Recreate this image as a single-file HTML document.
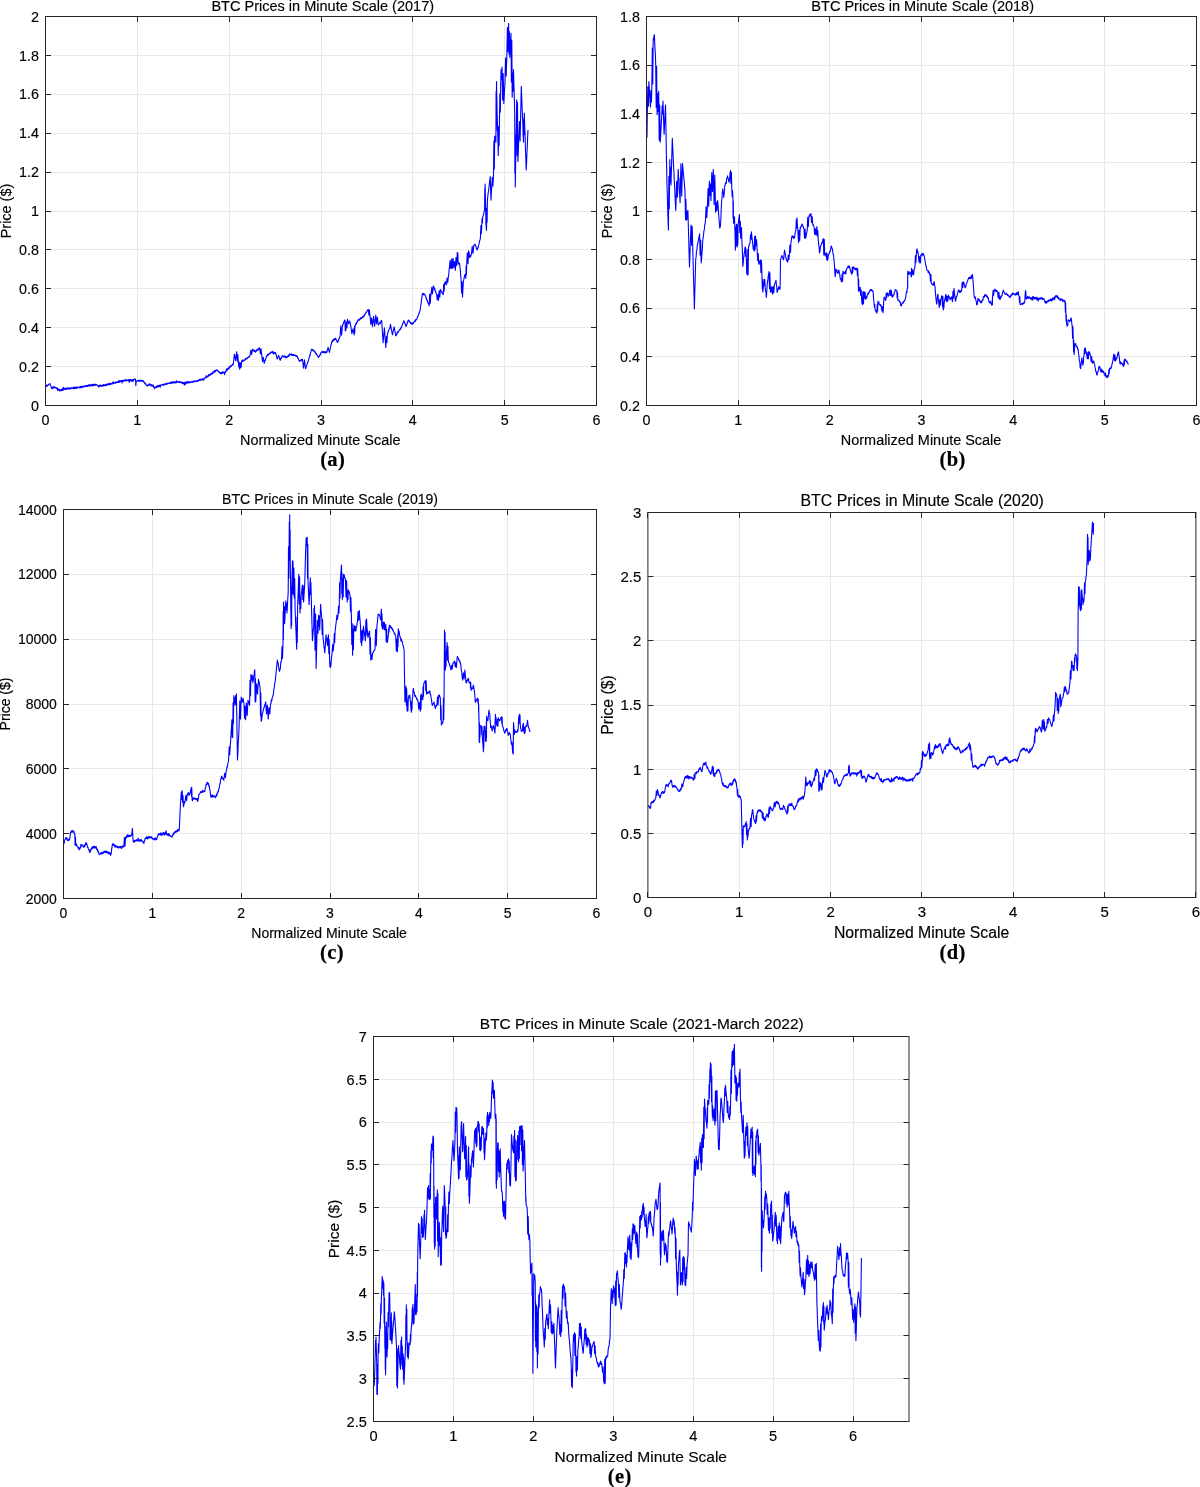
<!DOCTYPE html>
<html><head><meta charset="utf-8"><style>
html,body{margin:0;padding:0;background:#fff;}
svg{display:block;will-change:transform;}
text{font-family:"Liberation Sans",sans-serif;fill:#000;stroke:#000;stroke-width:0.15px;}
text.sub{font-family:"Liberation Serif",serif;font-weight:bold;font-size:20.5px;fill:#000;stroke:#000;stroke-width:0.2px;letter-spacing:0.4px;}
</style></head><body>
<svg width="1200" height="1487" viewBox="0 0 1200 1487">
<rect width="1200" height="1487" fill="#fff"/>
<path d="M137.5 16.5V405.5M229.5 16.5V405.5M321.5 16.5V405.5M412.5 16.5V405.5M504.5 16.5V405.5M45.5 366.5H596.5M45.5 327.5H596.5M45.5 288.5H596.5M45.5 249.5H596.5M45.5 211.5H596.5M45.5 172.5H596.5M45.5 133.5H596.5M45.5 94.5H596.5M45.5 55.5H596.5" stroke="#e8e8e8" stroke-width="1" fill="none"/>
<polyline points="45.5,386.3 45.9,386.8 46.2,385.1 46.6,386.2 47.0,385.4 47.4,386.0 47.8,384.9 48.1,385.4 48.5,384.3 48.9,384.6 49.2,384.0 49.6,384.1 50.0,383.7 50.4,384.9 50.9,385.9 51.3,387.6 51.7,388.3 52.1,388.8 52.4,387.7 52.8,388.2 53.2,386.5 53.5,388.0 53.9,387.2 54.3,387.8 54.6,386.7 55.0,387.5 55.4,387.7 55.7,387.5 56.1,388.1 56.4,387.6 56.8,388.5 57.1,387.9 57.5,390.5 57.9,388.6 58.2,389.7 58.6,389.1 58.9,390.4 59.3,389.6 59.6,391.0 60.0,390.3 60.4,390.4 60.7,389.6 61.1,390.9 61.4,389.3 61.8,390.2 62.1,389.1 62.5,390.4 62.9,388.1 63.2,390.0 63.6,387.2 63.9,389.9 64.3,388.3 64.6,389.0 65.0,388.7 65.4,389.4 65.7,388.2 66.1,389.5 66.4,388.1 66.8,389.3 67.2,388.2 67.5,388.6 67.9,387.6 68.2,389.2 68.6,388.1 69.0,389.0 69.3,388.2 69.7,389.1 70.0,388.1 70.4,388.7 70.8,387.6 71.1,388.3 71.5,387.9 71.8,388.8 72.2,387.9 72.5,388.0 72.9,387.5 73.3,388.8 73.6,387.1 74.0,388.4 74.3,387.0 74.7,388.6 75.1,387.4 75.4,388.3 75.8,387.3 76.1,388.6 76.5,386.8 76.9,388.1 77.2,387.4 77.6,387.8 77.9,387.0 78.3,387.5 78.6,387.5 79.0,387.0 79.3,387.9 79.7,387.1 80.0,387.6 80.4,386.4 80.8,387.8 81.1,386.1 81.5,387.5 81.8,386.6 82.2,387.6 82.5,386.2 82.8,387.1 83.2,386.3 83.5,386.5 83.9,385.9 84.2,387.0 84.6,386.2 85.0,386.3 85.3,386.0 85.7,386.7 86.0,385.4 86.4,386.1 86.7,385.8 87.1,386.5 87.4,385.2 87.8,386.5 88.1,385.6 88.5,385.8 88.8,384.6 89.2,385.9 89.6,384.9 89.9,386.2 90.3,384.6 90.6,385.6 91.0,384.8 91.3,385.3 91.7,384.9 92.1,386.1 92.4,384.4 92.8,385.2 93.1,384.2 93.5,385.8 93.8,384.2 94.2,385.0 94.6,384.7 94.9,385.4 95.3,384.0 95.6,385.1 96.0,384.6 96.3,385.0 96.7,384.5 97.1,385.3 97.5,385.4 97.9,386.0 98.3,386.3 98.7,386.8 99.0,385.3 99.4,386.8 99.7,385.9 100.1,386.0 100.4,384.9 100.8,386.2 101.1,385.7 101.5,386.3 101.8,385.6 102.2,386.2 102.5,385.1 102.9,385.9 103.2,384.9 103.6,386.0 103.9,384.3 104.3,385.5 104.6,384.9 105.0,385.8 105.4,384.9 105.7,385.7 106.1,384.1 106.4,385.5 106.8,384.2 107.1,384.9 107.5,384.2 107.8,385.2 108.2,383.6 108.5,384.5 108.9,383.7 109.2,384.4 109.6,383.2 109.9,384.8 110.3,383.6 110.6,384.5 111.0,383.2 111.3,384.0 111.7,383.7 112.1,383.6 112.4,382.9 112.8,384.0 113.2,381.5 113.5,383.4 113.9,382.8 114.2,383.0 114.6,382.5 115.0,383.1 115.3,382.3 115.7,383.3 116.0,381.9 116.4,382.5 116.8,382.1 117.1,382.4 117.5,382.0 117.9,382.3 118.2,381.1 118.6,382.4 118.9,380.9 119.3,382.3 119.6,380.6 120.0,381.9 120.3,381.2 120.7,381.4 121.0,380.5 121.4,381.4 121.7,380.6 122.1,383.1 122.5,380.2 122.8,381.0 123.2,380.5 123.5,381.4 123.9,380.1 124.2,380.7 124.6,380.2 124.9,381.2 125.3,380.1 125.6,380.7 126.0,379.3 126.3,380.9 126.7,380.0 127.1,380.5 127.4,380.0 127.8,380.8 128.1,380.1 128.5,380.3 128.8,379.4 129.2,382.5 129.6,379.5 129.9,381.0 130.3,379.5 130.6,380.6 131.0,379.6 131.3,381.2 131.7,380.5 132.1,380.5 132.5,379.5 132.8,381.8 133.2,379.5 133.6,380.5 134.0,379.3 134.4,379.5 134.7,379.0 135.1,379.3 135.5,379.0 135.8,385.8 136.2,381.0 136.6,381.5 136.9,381.0 137.3,381.0 137.6,380.7 138.0,381.0 138.3,380.2 138.7,381.4 139.0,380.2 139.4,381.3 139.8,380.7 140.1,381.0 140.5,380.1 140.8,381.0 141.2,380.7 141.5,381.2 141.9,380.2 142.2,381.3 142.6,380.5 142.9,381.5 143.3,380.8 143.7,382.0 144.1,381.8 144.4,383.2 144.8,382.9 145.2,384.2 145.6,383.4 145.9,384.7 146.3,385.1 146.7,385.8 147.1,386.1 147.4,385.0 147.8,385.6 148.2,385.1 148.5,385.2 148.9,384.0 149.3,385.3 149.6,383.9 150.0,384.2 150.4,385.0 150.7,384.5 151.1,385.8 151.4,384.7 151.8,386.1 152.1,385.2 152.5,385.9 152.9,384.7 153.2,386.7 153.6,385.7 153.9,387.7 154.3,386.8 154.6,388.8 155.0,387.5 155.4,387.4 155.7,386.7 156.1,387.3 156.4,386.5 156.8,387.5 157.1,386.1 157.5,387.0 157.8,385.6 158.2,387.0 158.5,385.4 158.9,386.2 159.2,385.4 159.6,386.5 159.9,385.0 160.3,387.2 160.6,385.1 161.0,385.6 161.3,384.9 161.7,385.0 162.1,385.0 162.4,384.2 162.8,384.9 163.1,384.5 163.5,385.4 163.9,384.2 164.2,384.9 164.6,384.0 164.9,384.2 165.3,383.6 165.7,384.4 166.0,383.7 166.4,384.6 166.8,383.5 167.1,384.1 167.5,383.1 167.8,383.6 168.2,383.1 168.6,383.6 168.9,383.2 169.3,383.5 169.6,382.8 170.0,383.0 170.4,383.3 170.7,382.2 171.1,383.1 171.4,381.9 171.8,383.3 172.2,382.1 172.5,383.1 172.9,382.0 173.2,383.0 173.6,381.5 174.0,382.8 174.3,381.8 174.7,382.6 175.1,382.0 175.4,382.9 175.8,381.7 176.1,382.9 176.5,380.7 176.9,382.1 177.2,381.6 177.6,382.3 177.9,381.4 178.3,381.7 178.7,382.0 179.0,381.9 179.4,382.7 179.7,381.2 180.1,382.4 180.4,382.0 180.8,382.5 181.2,382.0 181.5,383.0 181.9,382.5 182.2,383.3 182.6,382.1 182.9,383.7 183.3,383.0 183.7,383.6 184.0,382.3 184.4,385.1 184.7,382.8 185.1,382.8 185.4,382.1 185.8,384.3 186.1,381.7 186.5,383.0 186.8,382.2 187.2,383.3 187.6,381.6 187.9,382.4 188.3,381.5 188.6,382.9 189.0,381.9 189.3,382.9 189.7,381.9 190.0,382.8 190.4,381.9 190.7,382.4 191.1,381.8 191.5,382.1 191.8,381.4 192.2,381.8 192.5,381.4 192.9,382.4 193.2,381.2 193.6,381.6 193.9,381.1 194.3,381.8 194.6,380.7 195.0,381.3 195.4,381.6 195.7,381.0 196.1,381.3 196.4,380.7 196.8,381.0 197.2,380.6 197.5,381.5 197.9,380.5 198.2,380.6 198.6,380.0 199.0,380.8 199.3,379.4 199.7,380.3 200.1,379.5 200.4,380.2 200.8,379.1 201.1,380.2 201.5,379.6 201.9,379.6 202.2,378.8 202.6,379.9 202.9,379.1 203.3,379.2 203.7,380.2 204.0,378.0 204.4,378.7 204.7,378.2 205.1,378.1 205.4,377.5 205.8,377.6 206.1,375.5 206.5,377.7 206.8,376.8 207.2,376.9 207.5,376.2 207.9,376.6 208.2,375.2 208.6,376.3 208.9,374.2 209.3,375.5 209.6,374.9 210.0,374.7 210.4,375.2 210.7,373.6 211.1,374.3 211.4,373.2 211.8,373.9 212.1,373.1 212.5,373.8 212.8,371.9 213.2,373.4 213.5,372.0 213.9,372.2 214.2,370.8 214.6,371.9 214.9,370.5 215.3,371.9 215.6,370.3 216.0,370.8 216.3,369.9 216.7,370.0 217.1,370.5 217.4,370.0 217.8,371.1 218.2,371.0 218.5,371.9 218.9,371.6 219.3,372.6 219.6,372.1 220.0,373.0 220.4,373.6 220.7,372.6 221.1,373.8 221.4,372.3 221.8,373.6 222.1,372.4 222.5,373.5 222.9,371.5 223.2,373.0 223.6,372.3 223.9,372.7 224.3,372.1 224.6,374.8 225.0,372.5 225.4,372.4 225.7,371.0 226.1,371.5 226.5,368.9 226.8,370.8 227.2,369.1 227.6,369.7 227.9,368.3 228.3,368.3 228.7,369.0 229.0,367.0 229.4,368.1 229.7,366.7 230.1,366.9 230.4,365.7 230.8,366.9 231.2,365.6 231.5,365.9 231.9,365.0 232.2,365.2 232.6,364.1 232.9,364.9 233.3,364.2 234.4,354.0 235.5,360.4 236.7,351.7 237.2,361.2 237.8,354.6 238.3,361.7 238.8,367.0 239.2,362.0 239.7,369.2 240.4,362.7 241.0,367.6 241.7,360.8 242.1,361.6 242.5,359.9 242.9,361.1 243.3,360.8 243.7,361.2 244.1,360.0 244.4,360.3 244.8,359.5 245.2,359.9 245.6,358.5 245.9,359.2 246.3,358.3 246.7,358.3 247.1,358.8 247.4,357.7 247.8,357.5 248.2,357.0 248.5,357.6 248.9,356.5 249.3,357.1 249.6,356.0 250.0,355.8 250.8,350.1 251.7,354.4 252.5,349.2 252.9,350.1 253.2,349.9 253.6,351.0 253.9,349.8 254.3,351.4 254.6,350.6 255.0,351.7 255.4,352.2 255.7,350.7 256.1,351.5 256.4,350.1 256.8,350.8 257.2,349.2 257.5,349.9 257.9,349.1 258.3,349.9 258.6,348.6 259.0,349.2 259.3,347.7 259.7,348.0 260.4,354.0 261.0,348.8 261.7,355.0 262.5,361.6 263.3,357.2 264.2,363.3 264.6,362.5 264.9,360.4 265.3,360.5 265.6,358.6 266.0,358.3 266.3,356.8 266.7,355.8 267.1,356.2 267.4,354.5 267.8,355.5 268.1,354.1 268.5,354.9 268.8,354.0 269.2,354.3 269.6,353.6 269.9,353.5 270.3,352.5 270.6,353.1 271.0,351.9 271.3,352.9 271.7,352.0 272.1,352.4 272.4,351.4 272.8,353.0 273.2,351.9 273.6,354.3 273.9,352.1 274.3,353.4 274.7,352.8 275.1,353.1 275.4,352.5 275.8,353.3 277.2,359.0 278.6,355.4 280.0,360.0 280.4,360.2 280.7,358.1 281.1,358.9 281.4,357.3 281.8,357.5 282.1,355.7 282.5,355.8 282.9,356.0 283.3,356.0 283.6,357.0 284.0,356.0 284.4,356.9 284.8,355.9 285.2,357.2 285.6,356.4 285.9,358.0 286.3,356.8 286.7,357.5 287.1,357.5 287.4,356.1 287.8,356.5 288.2,355.7 288.5,356.6 288.9,354.9 289.3,355.8 289.6,353.8 290.0,354.2 290.4,354.4 290.7,354.3 291.1,355.0 291.4,353.8 291.8,355.3 292.1,354.7 292.5,355.5 292.8,354.2 293.2,355.5 293.5,354.7 293.9,355.5 294.2,355.1 294.6,355.5 294.9,355.2 295.3,355.6 295.6,355.1 296.0,356.4 296.3,355.6 296.7,355.8 297.1,356.8 297.4,356.5 297.8,358.5 298.1,358.0 298.5,359.8 298.8,360.0 299.2,360.8 299.6,361.3 299.9,360.4 300.3,361.0 300.7,360.0 301.0,360.8 301.4,359.5 301.8,360.3 302.1,359.2 302.5,359.2 303.5,368.1 304.5,359.8 305.5,368.7 305.9,368.1 306.2,366.3 306.6,365.9 306.9,364.6 307.2,363.9 307.6,362.1 307.9,362.3 308.3,360.8 308.7,360.1 309.1,357.4 309.4,357.4 309.8,354.9 310.2,355.2 310.6,352.5 310.9,352.0 311.3,349.9 311.7,349.2 312.1,350.0 312.4,349.5 312.8,350.6 313.2,349.8 313.5,350.9 313.9,350.8 314.3,351.8 314.6,350.9 315.0,351.7 315.4,353.1 315.7,352.7 316.1,354.5 316.5,353.8 316.8,355.0 317.2,355.0 317.6,356.2 317.9,356.8 318.3,357.5 318.7,357.1 319.1,356.0 319.4,356.4 319.8,354.7 320.2,355.1 320.6,353.1 320.9,353.2 321.3,352.3 321.7,351.7 322.1,352.2 322.4,351.5 322.8,352.6 323.1,351.7 323.5,352.4 323.8,351.3 324.2,352.5 324.6,351.8 324.9,353.0 325.3,352.0 325.6,352.8 326.0,351.5 326.3,352.8 326.7,352.5 328.1,347.3 329.4,352.4 330.8,345.8 331.2,344.5 331.7,341.7 332.1,342.5 332.4,340.5 332.8,341.0 333.2,339.6 333.6,340.8 333.9,339.0 334.3,340.1 334.7,338.6 335.1,339.4 335.4,338.4 335.8,338.3 336.2,339.8 336.6,340.3 337.1,341.8 337.5,342.5 337.9,341.9 338.2,340.0 338.6,340.7 338.9,338.5 339.3,338.6 339.6,336.9 340.0,336.7 340.8,325.7 341.6,335.1 342.5,325.0 342.9,325.2 343.2,323.5 343.6,323.6 343.9,321.3 344.3,321.7 344.6,320.3 345.0,320.0 345.3,330.7 345.5,323.3 345.8,330.8 346.4,322.0 346.9,327.9 347.5,319.2 348.6,323.8 349.7,320.9 350.8,325.8 351.9,333.7 353.0,328.8 354.2,335.0 354.5,326.3 354.7,332.9 355.0,325.8 355.4,325.7 355.7,323.7 356.1,324.5 356.5,322.4 356.8,323.2 357.2,321.6 357.6,321.7 357.9,319.9 358.3,320.0 358.7,320.1 359.0,319.3 359.4,320.2 359.7,319.0 360.1,319.6 360.4,317.7 360.8,318.7 361.2,318.0 361.5,318.2 361.9,317.2 362.2,317.9 362.6,316.6 362.9,317.8 363.3,316.7 363.7,316.3 364.0,315.0 364.4,315.9 364.7,314.4 365.1,314.4 365.4,313.4 365.8,313.0 366.2,312.1 366.5,312.4 366.9,311.0 367.2,311.2 367.6,310.0 367.9,310.3 368.3,309.2 368.9,315.2 369.4,310.1 370.0,315.8 370.8,324.5 371.6,317.7 372.5,326.7 373.6,316.3 374.7,326.2 375.8,315.0 376.6,324.0 377.4,317.3 378.3,325.0 378.7,324.7 379.1,323.8 379.4,323.8 379.8,322.5 380.2,323.5 380.6,321.8 380.9,322.0 381.3,320.5 381.7,320.8 383.1,342.8 384.4,327.8 385.8,347.5 386.4,336.6 386.9,342.7 387.5,333.3 387.9,333.3 388.2,331.1 388.6,331.1 389.0,329.3 389.3,329.3 389.7,327.6 390.1,328.0 390.4,324.4 390.8,325.8 392.4,334.8 394.1,326.8 395.8,335.8 396.2,335.8 396.5,334.1 396.9,334.2 397.3,332.1 397.6,333.2 398.0,331.5 398.4,332.1 398.8,330.8 399.1,330.7 399.5,329.7 399.9,330.0 400.2,328.7 400.6,329.1 401.0,327.5 401.3,327.8 401.7,326.7 403.9,320.8 406.1,326.5 408.3,320.0 408.7,321.0 409.1,320.4 409.4,321.9 409.8,321.8 410.2,323.0 410.6,322.3 410.9,323.6 411.3,323.2 411.7,324.2 412.1,324.3 412.4,322.8 412.8,324.0 413.1,322.7 413.5,322.9 413.8,321.9 414.2,321.9 414.6,321.2 414.9,321.4 415.3,319.5 415.6,321.1 416.0,319.7 416.3,319.7 416.7,319.2 417.1,318.8 417.4,316.7 417.8,317.0 418.2,315.2 418.5,314.8 418.9,313.1 419.3,313.5 419.6,311.6 420.0,310.8 420.4,308.5 420.7,305.5 421.1,303.9 421.4,299.9 421.8,298.6 422.1,295.3 422.5,293.3 422.9,294.0 423.2,293.2 423.6,294.9 423.9,294.2 424.3,294.7 424.6,293.9 425.0,295.0 425.4,296.1 425.8,296.3 426.1,298.7 426.5,298.4 426.9,300.5 427.3,300.1 427.7,302.5 428.1,302.7 428.4,304.0 428.8,304.2 429.2,305.8 429.7,294.2 430.3,303.3 430.8,293.3 431.0,295.2 431.8,287.3 432.5,294.0 433.3,285.8 433.7,287.0 434.1,287.0 434.4,289.6 434.8,288.8 435.2,290.5 435.6,292.2 435.9,292.0 436.2,293.4 436.6,294.2 437.2,300.0 437.9,294.6 438.5,300.4 439.1,290.8 439.8,297.1 440.4,289.5 440.8,290.5 441.1,290.7 441.4,291.6 441.8,291.9 442.1,293.3 442.5,292.7 442.8,294.3 443.2,294.7 443.7,284.3 444.1,291.2 444.6,282.9 445.0,283.9 445.4,281.5 445.7,284.1 446.1,284.0 446.5,284.8 447.1,278.0 447.8,282.4 448.4,276.4 448.8,273.9 449.1,269.2 449.5,267.4 449.8,262.9 450.2,260.4 450.5,268.3 450.9,263.1 451.2,268.8 451.8,258.9 452.5,268.2 453.1,258.5 453.9,267.8 454.6,261.6 455.4,270.2 456.0,257.5 456.7,265.4 457.3,252.4 457.6,261.7 457.9,253.2 458.2,264.1 458.6,264.0 458.9,263.0 459.2,264.0 459.6,263.2 460.0,267.3 460.4,271.1 460.7,275.6 461.1,279.2 461.6,293.0 462.0,281.7 462.5,297.1 462.9,289.3 463.4,281.1 463.8,279.9 464.1,277.3 464.4,277.0 464.8,274.5 465.3,277.1 465.8,278.2 466.1,266.1 466.4,274.8 466.7,264.1 467.3,252.8 468.0,263.6 468.6,250.9 468.9,255.6 469.2,252.3 469.5,257.5 469.9,257.0 470.3,255.5 470.6,257.0 471.0,254.9 471.4,254.7 472.2,246.3 473.0,253.5 473.8,245.3 474.3,245.0 474.7,244.2 475.2,244.4 475.6,246.1 476.0,246.1 476.3,248.5 476.7,248.9 477.1,250.0 477.5,249.0 477.8,247.5 478.2,247.9 478.5,245.1 478.9,244.4 479.3,242.9 479.6,241.0 480.0,239.9 480.4,237.8 480.9,225.5 481.3,233.8 481.8,224.6 482.1,218.6 482.4,223.0 482.7,217.1 483.1,216.0 483.5,214.4 483.8,213.6 484.2,210.5 484.6,210.5 484.8,188.4 484.9,210.2 485.1,184.1 485.6,205.0 486.0,224.6 486.5,230.2 486.8,208.1 487.1,222.2 487.4,200.1 488.0,194.2 488.4,191.9 488.8,188.8 489.3,184.8 489.7,180.6 490.2,176.6 490.6,189.0 491.0,200.1 491.7,186.9 492.3,177.2 492.9,186.3 493.5,174.8 493.9,140.8 494.3,169.0 494.7,136.0 495.1,140.3 495.5,138.1 495.9,142.1 496.1,91.5 496.3,130.6 496.5,81.6 497.1,111.9 497.5,126.8 497.9,140.1 498.3,155.4 498.7,126.4 499.1,145.6 499.5,117.9 499.9,93.8 500.3,112.3 500.7,85.2 501.1,69.5 501.6,79.5 502.0,67.1 502.6,100.0 503.2,73.5 503.8,103.4 504.2,97.2 504.6,89.2 505.0,82.8 505.6,58.1 506.2,76.0 506.8,57.4 507.4,27.6 508.0,51.5 508.6,23.5 509.0,53.9 509.4,31.5 509.8,57.4 510.2,49.8 510.6,40.8 511.0,33.2 511.4,81.9 511.8,40.4 512.2,97.3 512.6,73.0 513.1,91.2 513.5,69.5 513.9,84.2 514.3,97.3 514.7,111.9 514.9,173.0 515.1,135.1 515.3,186.9 515.6,165.8 516.0,142.7 516.4,121.8 516.7,99.7 517.1,155.8 517.5,102.5 517.9,161.5 518.3,152.2 518.7,140.8 519.1,131.7 519.5,121.5 520.1,140.9 520.5,122.9 520.9,103.9 521.3,86.4 521.7,96.2 522.0,104.4 522.4,115.1 522.8,122.6 523.1,133.3 523.5,142.1 523.8,118.7 524.0,134.7 524.3,113.1 524.7,126.5 525.1,135.2 525.4,147.3 525.8,158.4 526.2,170.0 526.6,162.4 526.9,153.7 527.3,146.6 527.6,137.9 528.0,130.0" stroke="#0000ff" stroke-width="1.1" fill="none" stroke-linejoin="round"/>
<path d="M45.5 405.5v-5.5M45.5 16.5v5.5M137.5 405.5v-5.5M137.5 16.5v5.5M229.5 405.5v-5.5M229.5 16.5v5.5M321.5 405.5v-5.5M321.5 16.5v5.5M412.5 405.5v-5.5M412.5 16.5v5.5M504.5 405.5v-5.5M504.5 16.5v5.5M596.5 405.5v-5.5M596.5 16.5v5.5M45.5 405.5h5.5M596.5 405.5h-5.5M45.5 366.5h5.5M596.5 366.5h-5.5M45.5 327.5h5.5M596.5 327.5h-5.5M45.5 288.5h5.5M596.5 288.5h-5.5M45.5 249.5h5.5M596.5 249.5h-5.5M45.5 211.5h5.5M596.5 211.5h-5.5M45.5 172.5h5.5M596.5 172.5h-5.5M45.5 133.5h5.5M596.5 133.5h-5.5M45.5 94.5h5.5M596.5 94.5h-5.5M45.5 55.5h5.5M596.5 55.5h-5.5M45.5 16.5h5.5M596.5 16.5h-5.5" stroke="#262626" stroke-width="1" fill="none"/>
<rect x="45.5" y="16.5" width="551" height="389" stroke="#262626" stroke-width="1" fill="none"/>
<g font-size="14.3"><text x="45.5" y="424.9" text-anchor="middle">0</text><text x="137.3333" y="424.9" text-anchor="middle">1</text><text x="229.1667" y="424.9" text-anchor="middle">2</text><text x="321" y="424.9" text-anchor="middle">3</text><text x="412.8333" y="424.9" text-anchor="middle">4</text><text x="504.6667" y="424.9" text-anchor="middle">5</text><text x="596.5" y="424.9" text-anchor="middle">6</text><text x="38.9" y="410.648" text-anchor="end">0</text><text x="38.9" y="371.748" text-anchor="end">0.2</text><text x="38.9" y="332.848" text-anchor="end">0.4</text><text x="38.9" y="293.948" text-anchor="end">0.6</text><text x="38.9" y="255.048" text-anchor="end">0.8</text><text x="38.9" y="216.148" text-anchor="end">1</text><text x="38.9" y="177.248" text-anchor="end">1.2</text><text x="38.9" y="138.348" text-anchor="end">1.4</text><text x="38.9" y="99.448" text-anchor="end">1.6</text><text x="38.9" y="60.548" text-anchor="end">1.8</text><text x="38.9" y="21.648" text-anchor="end">2</text></g>
<text x="322.75" y="10.7" font-size="14.52" text-anchor="middle">BTC Prices in Minute Scale (2017)</text>
<text x="320.2" y="444.6" font-size="14.45" text-anchor="middle">Normalized Minute Scale</text>
<text transform="translate(10.8 211) rotate(-90)" font-size="14.45" text-anchor="middle">Price ($)</text>
<text x="332.7" y="466" class="sub" text-anchor="middle">(a)</text>
<path d="M738.5 16.5V405.5M829.5 16.5V405.5M921.5 16.5V405.5M1013.5 16.5V405.5M1104.5 16.5V405.5M646.5 356.5H1196.5M646.5 308.5H1196.5M646.5 259.5H1196.5M646.5 211.5H1196.5M646.5 162.5H1196.5M646.5 113.5H1196.5M646.5 65.5H1196.5" stroke="#e8e8e8" stroke-width="1" fill="none"/>
<polyline points="646.5,140.1 646.8,116.1 647.0,137.0 647.3,114.8 647.8,86.8 648.4,106.3 648.9,81.6 649.3,88.6 649.7,94.3 650.1,101.6 650.5,107.0 650.9,90.6 651.4,102.1 651.8,89.4 652.3,48.1 652.7,84.0 653.2,38.7 653.6,39.9 654.0,35.5 654.4,34.8 654.8,45.1 655.3,53.2 655.7,64.0 656.2,107.4 656.6,66.2 657.1,114.8 657.6,93.5 658.2,111.4 658.7,91.3 659.2,140.3 659.7,105.0 660.2,142.1 660.7,135.6 661.1,126.3 661.6,118.7 662.1,106.0 662.5,113.7 663.0,101.1 663.4,113.1 663.7,122.7 664.1,134.3 664.6,125.1 665.0,114.3 665.5,105.0 666.0,130.4 666.4,155.7 666.9,181.1 667.3,194.3 667.6,205.5 668.0,218.6 668.4,229.9 668.9,176.3 669.3,208.8 669.8,159.6 670.2,182.6 670.6,167.5 671.0,185.0 671.4,170.5 671.9,152.7 672.3,138.2 672.7,146.9 673.1,155.2 673.5,164.2 673.9,172.2 674.3,181.1 674.7,188.8 675.0,195.1 675.4,204.3 675.8,210.4 676.6,181.4 677.4,197.2 678.2,169.4 678.6,176.9 679.0,179.5 679.3,190.3 679.7,195.2 680.1,202.6 680.9,163.8 681.7,196.1 682.5,163.5 682.9,167.9 683.2,171.2 683.6,175.7 683.9,178.4 684.3,183.1 684.6,186.9 685.0,190.9 685.5,219.8 685.9,199.3 686.4,220.1 686.9,211.5 687.4,219.0 687.9,210.4 688.3,225.1 688.7,238.5 689.1,253.2 689.5,267.0 689.9,256.9 690.2,245.1 690.6,236.8 691.0,225.0 691.6,245.3 692.2,226.3 692.8,249.4 693.2,265.3 693.6,279.1 694.0,294.6 694.4,308.9 694.8,292.5 695.3,275.1 695.7,259.1 696.1,256.9 696.5,251.1 696.9,250.2 697.3,245.5 697.7,243.8 698.1,241.4 698.5,239.9 698.8,237.2 699.2,236.7 699.6,233.8 700.1,254.9 700.7,240.1 701.2,263.0 701.6,258.7 702.0,252.8 702.3,249.0 702.7,241.7 703.1,237.7 703.5,235.5 703.9,230.9 704.3,230.0 704.7,225.3 705.1,223.6 705.5,220.1 706.1,206.6 706.8,217.8 707.4,206.5 708.1,188.4 708.7,206.3 709.4,181.1 709.9,195.4 710.5,184.0 711.0,200.6 711.8,172.6 712.5,191.5 713.3,169.4 714.1,204.6 714.8,175.1 715.6,212.3 716.3,202.4 716.9,210.6 717.6,200.6 718.0,205.4 718.3,208.7 718.7,215.5 719.0,218.4 719.4,223.5 719.7,227.9 720.1,227.4 720.5,225.3 720.9,218.6 721.2,209.0 721.6,201.7 722.0,198.3 722.3,192.8 722.7,188.8 723.1,192.6 723.4,192.4 723.8,197.4 724.3,192.1 724.8,185.5 725.2,185.2 725.5,183.1 725.9,182.3 726.3,183.4 726.7,178.6 727.1,178.5 727.5,175.8 727.9,177.6 728.3,178.8 728.7,181.0 729.1,182.3 729.6,179.3 730.0,173.4 730.5,170.5 730.9,183.4 731.4,172.2 731.8,188.8 732.2,196.8 732.5,190.5 732.9,197.4 733.1,218.3 733.3,201.1 733.5,223.2 733.8,216.7 734.2,221.4 734.5,216.7 735.0,233.8 735.4,250.1 735.7,227.1 736.1,246.0 736.4,224.3 736.7,243.8 736.9,224.4 737.2,246.9 737.5,231.3 737.8,244.4 738.1,225.3 738.5,221.8 739.0,217.8 739.4,214.6 739.8,232.6 740.3,221.3 740.7,238.3 741.1,233.5 741.5,227.5 741.9,240.6 742.4,251.0 742.8,266.3 743.1,264.2 743.5,258.8 743.9,256.6 744.2,253.3 744.6,251.6 744.9,247.9 745.3,246.9 745.7,256.4 746.0,248.8 746.4,258.7 746.7,273.8 747.1,262.5 747.4,274.9 747.8,249.5 748.1,274.6 748.5,246.9 748.9,246.5 749.3,243.9 749.7,243.8 750.1,242.6 750.5,234.9 751.0,239.5 751.4,231.8 751.9,237.1 752.3,239.8 752.8,244.7 753.3,249.4 753.7,245.7 754.2,251.2 754.6,236.6 755.1,249.8 755.5,236.1 756.0,245.6 756.6,239.8 757.1,249.0 757.7,260.8 758.2,253.5 758.8,264.1 759.2,264.1 759.6,261.7 760.0,261.1 760.4,259.8 760.9,272.5 761.5,260.5 762.0,277.0 762.3,289.0 762.5,279.5 762.8,292.1 763.2,288.8 763.7,283.4 764.1,279.2 764.5,285.7 764.8,279.6 765.2,287.8 765.6,291.6 765.9,291.6 766.3,297.5 766.7,293.2 767.0,287.4 767.4,282.4 767.8,280.7 768.2,276.1 768.6,274.5 769.0,271.6 769.5,288.6 769.9,272.7 770.4,292.1 770.8,291.0 771.3,288.3 771.7,286.7 772.0,292.6 772.4,287.4 772.7,294.2 773.3,286.8 773.8,292.7 774.4,284.6 774.8,284.0 775.2,282.4 775.6,282.1 776.0,280.2 776.4,284.8 776.7,285.6 777.1,292.1 777.5,292.0 777.9,288.7 778.3,289.3 778.7,286.7 779.2,289.1 779.6,287.5 780.1,288.9 780.5,259.8 781.0,258.4 781.4,256.7 781.9,255.5 782.3,256.7 782.7,257.2 783.1,259.0 783.5,259.8 783.9,257.6 784.2,252.7 784.6,250.1 785.0,253.2 785.4,254.1 785.8,256.8 786.2,258.7 786.6,260.8 787.0,260.2 787.4,261.7 787.8,262.0 788.3,255.0 788.9,259.6 789.4,254.4 789.9,245.1 790.5,252.4 791.0,241.5 791.4,240.3 791.7,236.9 792.1,236.1 792.5,237.1 792.8,235.7 793.2,237.9 793.6,236.7 793.9,238.3 794.3,238.3 794.7,236.8 795.1,232.9 795.5,231.9 795.9,229.7 796.3,219.9 796.6,228.1 797.0,217.8 797.4,225.3 797.8,229.2 798.2,237.3 798.6,242.6 799.1,230.4 799.7,240.5 800.2,227.5 800.6,228.1 801.0,226.1 801.5,226.2 801.9,224.1 802.3,224.3 802.7,226.2 803.1,226.0 803.6,228.1 804.0,228.6 804.5,237.9 805.1,229.1 805.6,238.3 806.0,236.8 806.4,234.2 806.8,232.6 807.2,230.7 807.7,217.4 808.3,226.7 808.8,216.7 809.2,216.4 809.5,214.7 809.9,216.3 810.3,214.3 810.6,215.3 811.0,213.5 811.5,222.4 812.1,216.6 812.6,223.2 813.0,225.5 813.4,224.9 813.8,226.6 814.2,227.5 814.6,234.1 815.1,229.0 815.5,234.6 816.0,228.5 816.4,234.6 816.9,226.5 817.3,236.0 817.8,230.5 818.2,238.9 818.6,243.7 819.1,246.9 819.5,252.9 820.0,251.0 820.4,247.1 820.9,245.3 821.3,245.0 821.6,242.7 822.0,243.2 822.5,242.5 822.9,239.3 823.4,238.9 823.8,254.9 824.3,239.4 824.7,255.0 825.1,254.7 825.5,253.7 825.9,256.4 826.3,252.9 826.7,259.8 827.0,253.3 827.4,260.4 827.9,258.6 828.3,255.6 828.8,254.0 829.2,253.8 829.7,251.4 830.1,251.8 830.5,250.2 831.0,246.9 831.4,245.9 831.9,248.1 832.3,248.6 832.8,251.8 833.1,254.8 833.5,254.8 833.9,260.1 834.2,261.5 834.7,269.4 835.2,276.6 835.6,273.1 836.0,269.0 836.4,270.2 836.8,270.1 837.2,272.6 837.6,273.3 838.0,273.1 838.5,270.2 838.9,270.1 839.3,273.3 839.6,273.2 840.0,276.6 840.4,279.1 840.9,278.9 841.3,281.4 841.7,282.0 842.1,274.1 842.6,281.1 843.0,271.2 843.4,272.0 843.8,272.1 844.2,273.8 844.6,273.3 845.0,273.3 845.4,270.8 845.8,274.0 846.2,270.1 846.6,269.6 846.9,268.3 847.3,268.0 847.7,267.7 848.1,266.0 848.5,267.5 848.9,265.8 849.3,267.7 849.7,266.8 850.1,269.6 850.5,270.1 850.9,272.5 851.4,272.1 851.8,274.4 852.3,267.4 852.7,272.7 853.2,266.9 853.6,267.7 854.0,267.1 854.4,268.7 854.8,269.0 855.2,269.5 855.5,268.4 855.9,270.0 856.3,268.1 856.6,269.5 857.0,268.5 857.4,275.7 857.7,268.8 858.1,277.6 858.4,290.2 858.6,279.0 858.9,291.6 859.3,290.4 859.8,287.6 860.2,287.3 860.6,295.1 861.1,289.7 861.5,295.9 861.8,303.1 862.1,298.7 862.4,304.6 862.9,291.8 863.5,303.7 864.0,291.6 864.5,298.1 865.1,292.4 865.6,299.2 866.0,298.9 866.4,296.6 866.8,297.9 867.2,294.9 867.6,294.9 868.0,292.9 868.4,294.0 868.8,292.7 869.2,292.8 869.6,290.7 870.0,291.0 870.4,289.5 870.8,290.4 871.2,289.5 871.6,290.7 872.0,290.0 872.4,291.2 872.7,290.7 873.1,291.6 873.5,298.0 874.0,302.4 874.4,307.1 874.7,304.3 875.1,308.9 875.5,310.9 875.8,310.2 876.2,312.1 876.5,311.7 876.9,313.2 877.3,303.9 877.6,310.9 878.0,301.3 878.4,302.9 878.8,301.7 879.2,304.2 879.6,304.6 880.0,305.3 880.4,304.5 880.8,306.0 881.2,305.6 881.8,311.0 882.4,306.6 883.0,312.6 883.4,308.4 883.7,301.2 884.1,297.0 884.5,297.9 885.0,298.0 885.4,300.4 885.8,300.2 886.2,293.4 886.7,297.7 887.1,292.7 887.5,293.8 887.9,293.3 888.3,296.2 888.7,295.9 889.2,295.0 889.6,291.1 890.1,290.0 890.7,295.6 891.4,290.4 892.0,296.5 892.4,297.2 892.8,295.2 893.2,296.2 893.6,294.9 894.0,294.8 894.4,292.0 894.8,292.0 895.2,289.5 895.6,290.3 896.0,290.0 896.4,290.6 896.8,290.6 897.2,297.9 897.5,292.5 897.9,300.2 898.3,300.8 898.7,300.2 899.1,300.8 899.5,300.8 899.9,302.5 900.3,302.0 900.7,305.6 901.1,305.6 901.5,305.8 901.9,303.3 902.3,303.4 902.7,302.4 903.1,303.3 903.5,301.3 903.9,301.6 904.3,301.3 904.7,300.6 905.2,299.0 905.6,298.1 906.0,294.9 906.5,291.6 906.9,292.6 907.2,288.5 907.6,288.4 907.7,271.8 907.7,287.0 907.8,271.2 908.1,272.7 908.5,272.0 908.9,274.3 909.2,274.4 909.6,273.4 910.0,271.7 910.4,273.5 910.8,273.7 911.1,276.5 911.5,276.7 911.5,268.3 912.1,274.4 912.7,269.9 913.3,275.0 913.7,273.9 914.1,269.7 914.6,268.6 915.0,265.8 915.4,255.6 915.9,262.7 916.3,255.0 916.6,249.9 916.8,253.1 917.1,248.8 917.5,251.5 917.9,251.6 918.3,254.2 918.9,261.8 919.4,256.6 920.0,263.3 920.3,256.9 920.5,262.5 920.8,255.0 921.2,255.2 921.6,254.1 922.1,255.8 922.5,253.3 922.9,254.0 923.4,253.6 923.8,255.4 924.2,255.8 924.6,258.7 925.0,260.1 925.4,263.3 925.8,265.5 926.3,266.6 926.7,269.2 927.1,270.4 927.5,270.2 927.9,270.8 928.2,272.6 928.6,270.8 929.0,273.0 929.3,272.4 929.6,274.1 930.0,274.2 930.4,281.2 930.9,274.4 931.3,283.3 931.7,284.0 932.1,283.7 932.5,284.9 932.9,285.0 933.3,285.2 933.8,282.4 934.2,281.7 934.6,285.3 935.0,286.7 935.4,292.1 935.8,296.7 936.2,301.0 936.7,304.2 937.1,301.3 937.5,295.2 937.9,294.2 938.3,298.8 938.8,303.0 939.2,307.5 939.7,299.9 940.3,305.1 940.8,299.2 941.2,298.5 941.7,295.8 942.1,295.8 942.5,306.7 942.9,296.6 943.3,310.0 943.6,304.3 943.9,307.9 944.2,302.5 944.6,300.8 945.0,298.3 945.3,297.3 945.7,294.2 946.0,300.3 946.4,295.8 946.7,301.7 947.2,296.5 947.8,301.3 948.3,295.0 948.7,297.2 949.1,296.3 949.6,298.7 950.0,299.2 950.4,299.6 950.9,297.5 951.3,297.9 951.7,296.7 952.1,299.9 952.5,301.7 953.0,291.2 953.5,298.1 954.0,288.3 954.5,293.8 954.9,296.0 955.4,301.3 955.8,300.7 956.3,296.6 956.7,296.7 957.1,295.6 957.5,292.7 957.9,292.7 958.3,290.0 958.7,290.9 959.1,290.2 959.6,292.4 960.0,291.7 960.4,292.3 960.9,290.5 961.3,291.5 961.7,290.0 962.2,282.3 962.8,287.4 963.3,281.7 963.6,283.4 964.0,282.7 964.3,285.3 964.7,285.5 965.0,287.8 965.4,287.5 965.8,286.8 966.2,284.2 966.7,283.2 967.1,281.7 967.5,281.4 968.0,279.3 968.4,279.0 968.8,277.5 969.2,278.5 969.6,277.2 970.0,278.6 970.4,277.9 970.8,278.6 971.1,275.9 971.5,278.3 971.8,275.2 972.1,276.2 972.5,274.6 972.9,279.8 973.3,284.2 973.8,291.3 974.2,296.7 974.6,298.0 975.0,296.8 975.4,297.5 975.8,300.1 976.2,301.1 976.7,304.8 977.1,305.0 977.5,303.2 977.9,298.2 978.3,299.2 978.6,300.3 979.0,299.3 979.3,301.1 979.7,300.1 980.0,301.7 980.4,301.7 980.8,303.0 981.3,301.1 981.7,302.5 982.1,301.4 982.5,299.7 983.0,300.2 983.4,296.6 983.8,296.7 984.2,297.3 984.6,294.7 985.0,296.3 985.4,294.6 985.8,295.5 986.1,295.0 986.5,296.4 986.8,295.6 987.1,297.1 987.5,296.7 987.9,298.5 988.4,298.0 988.8,301.7 989.2,301.7 989.6,302.9 990.0,301.3 990.4,301.7 990.8,303.5 991.2,303.2 991.7,305.1 992.1,305.0 992.2,299.7 992.4,304.7 992.5,298.3 993.1,290.4 993.6,295.4 994.2,290.0 994.6,290.3 995.0,289.0 995.4,291.2 995.8,290.0 996.2,291.5 996.6,290.5 997.1,291.5 997.5,291.7 998.2,298.3 998.9,292.0 999.6,299.2 1000.0,299.4 1000.3,297.0 1000.7,298.5 1001.0,296.1 1001.4,296.7 1001.7,295.8 1002.1,295.4 1002.5,292.1 1002.9,292.1 1003.3,290.0 1003.7,291.8 1004.1,291.7 1004.6,293.7 1005.0,293.8 1005.4,294.4 1005.7,293.8 1006.1,294.4 1006.5,293.1 1006.8,294.4 1007.2,294.4 1007.6,295.6 1008.0,294.7 1008.4,295.8 1008.7,295.8 1009.1,296.7 1009.5,296.4 1009.9,297.6 1010.3,297.3 1010.7,295.0 1011.1,296.0 1011.5,294.9 1011.9,294.9 1012.2,293.1 1012.6,294.7 1013.0,293.2 1013.3,294.0 1013.7,293.3 1014.1,294.1 1014.5,293.9 1015.0,295.0 1015.4,293.8 1015.8,294.9 1016.2,294.9 1016.6,292.6 1017.1,294.5 1017.5,292.8 1017.9,294.7 1018.3,291.6 1018.7,295.5 1019.1,296.0 1019.5,302.3 1019.8,296.9 1020.2,304.7 1020.6,304.8 1021.0,304.3 1021.5,304.1 1021.9,303.2 1022.3,303.6 1022.7,304.4 1023.0,303.2 1023.4,303.7 1023.8,302.3 1024.1,303.3 1024.5,303.0 1024.9,299.6 1025.2,293.4 1025.6,290.6 1025.8,296.0 1025.9,292.3 1026.1,298.2 1026.5,299.1 1026.8,297.6 1027.2,297.8 1027.6,296.2 1027.9,298.6 1028.3,297.1 1028.7,298.2 1029.1,296.7 1029.5,298.2 1029.8,297.3 1030.2,298.7 1030.6,297.8 1031.0,299.0 1031.4,299.1 1031.8,297.6 1032.2,300.5 1032.5,296.8 1032.9,298.6 1033.3,296.4 1033.7,297.3 1034.1,299.4 1034.5,297.6 1034.9,298.3 1035.2,297.4 1035.6,298.7 1036.0,297.3 1036.4,298.7 1036.8,299.8 1037.1,297.4 1037.5,299.7 1037.9,298.3 1038.2,301.1 1038.6,298.3 1039.0,299.6 1039.3,298.0 1039.7,298.4 1040.1,298.9 1040.4,298.3 1040.8,298.8 1041.1,297.2 1041.5,298.6 1041.8,298.0 1042.2,299.3 1042.6,298.0 1042.9,299.4 1043.3,298.5 1043.6,299.0 1044.0,298.7 1044.4,301.0 1044.7,300.9 1045.1,302.5 1045.5,303.0 1045.8,301.2 1046.2,303.4 1046.6,301.4 1046.9,302.5 1047.3,302.0 1047.7,301.8 1048.0,300.4 1048.3,301.5 1048.7,300.2 1049.1,300.9 1049.4,299.8 1049.8,300.6 1050.2,299.6 1050.6,300.4 1050.9,298.9 1051.3,301.1 1051.7,299.0 1052.1,299.8 1052.5,300.3 1052.8,297.9 1053.2,299.5 1053.6,297.9 1053.9,298.7 1054.3,297.6 1054.7,299.7 1055.0,296.2 1055.4,296.8 1055.8,295.6 1056.1,297.3 1056.5,295.8 1056.9,296.5 1057.3,295.6 1057.7,298.1 1058.0,296.7 1058.4,298.6 1058.8,298.0 1059.2,299.3 1059.6,299.5 1059.9,298.9 1060.3,300.6 1060.6,298.7 1061.0,300.0 1061.3,299.2 1061.7,299.8 1062.0,298.9 1062.4,299.8 1062.8,301.4 1063.2,300.0 1063.6,301.0 1063.9,300.9 1064.3,302.0 1064.7,300.4 1065.1,302.0 1065.4,312.3 1065.6,302.8 1065.9,313.3 1066.1,321.3 1066.3,314.7 1066.5,322.0 1066.9,325.4 1067.3,326.3 1067.7,325.4 1068.0,320.8 1068.4,319.8 1068.8,320.4 1069.2,320.2 1069.6,321.7 1070.0,320.9 1070.4,320.8 1070.9,318.0 1071.3,318.2 1071.8,323.5 1072.2,326.3 1072.6,338.2 1072.9,326.6 1073.3,339.3 1073.6,351.7 1073.8,340.4 1074.1,354.5 1074.5,349.3 1074.9,343.7 1075.3,344.4 1075.7,343.6 1076.1,346.0 1076.5,345.8 1076.9,347.4 1077.3,346.8 1077.7,349.4 1078.1,349.1 1078.5,353.4 1078.9,355.3 1079.4,361.4 1079.8,362.1 1080.1,367.7 1080.3,363.9 1080.6,368.6 1081.0,365.1 1081.5,361.1 1081.9,357.8 1082.3,361.3 1082.6,362.6 1083.0,365.3 1083.4,362.1 1083.7,357.2 1084.1,354.5 1084.5,348.2 1085.0,353.8 1085.4,348.0 1085.8,351.0 1086.2,351.8 1086.5,354.5 1086.9,355.9 1087.3,358.8 1087.9,352.2 1088.4,358.7 1089.0,351.3 1089.4,353.1 1089.8,352.9 1090.2,355.0 1090.6,355.6 1091.1,361.6 1091.7,356.9 1092.2,362.1 1092.6,363.2 1093.0,361.2 1093.4,362.5 1093.8,361.0 1094.2,363.6 1094.7,364.9 1095.1,367.7 1095.5,369.7 1095.8,371.6 1096.2,371.3 1096.6,374.3 1096.9,375.1 1097.3,374.1 1097.8,372.1 1098.2,370.8 1098.6,369.8 1098.9,366.4 1099.3,366.4 1099.7,368.0 1100.1,367.2 1100.5,371.1 1100.9,371.8 1101.3,371.9 1101.7,369.1 1102.2,372.1 1102.6,370.9 1103.0,370.8 1103.4,372.5 1103.8,371.7 1104.3,374.8 1104.7,374.6 1105.1,375.8 1105.5,372.8 1105.9,376.7 1106.3,376.7 1106.7,377.8 1107.0,375.3 1107.4,377.3 1107.8,375.9 1108.1,376.9 1108.5,375.6 1108.8,369.9 1109.2,373.7 1109.5,368.6 1109.9,368.8 1110.3,367.7 1110.8,368.9 1111.2,367.5 1111.6,366.5 1112.0,364.0 1112.4,363.1 1112.8,361.0 1113.2,358.8 1113.5,356.0 1113.9,354.0 1114.4,360.5 1115.0,355.1 1115.5,361.0 1115.9,360.3 1116.3,358.1 1116.7,358.8 1117.1,356.7 1117.4,355.6 1117.8,353.1 1118.2,353.8 1118.5,351.8 1118.9,355.5 1119.4,357.9 1119.8,362.6 1120.2,364.2 1120.5,361.9 1120.9,363.3 1121.3,362.7 1121.6,363.5 1122.0,363.2 1122.4,365.0 1122.8,364.3 1123.2,366.1 1123.6,366.4 1124.0,360.7 1124.3,364.7 1124.7,358.8 1125.1,360.5 1125.5,359.4 1125.9,361.2 1126.3,361.0 1126.7,361.8 1127.0,361.1 1127.4,362.9 1127.8,363.0 1128.1,363.9 1128.5,364.3" stroke="#0000ff" stroke-width="1.1" fill="none" stroke-linejoin="round"/>
<path d="M646.5 405.5v-5.5M646.5 16.5v5.5M738.5 405.5v-5.5M738.5 16.5v5.5M829.5 405.5v-5.5M829.5 16.5v5.5M921.5 405.5v-5.5M921.5 16.5v5.5M1013.5 405.5v-5.5M1013.5 16.5v5.5M1104.5 405.5v-5.5M1104.5 16.5v5.5M1196.5 405.5v-5.5M1196.5 16.5v5.5M646.5 405.5h5.5M1196.5 405.5h-5.5M646.5 356.5h5.5M1196.5 356.5h-5.5M646.5 308.5h5.5M1196.5 308.5h-5.5M646.5 259.5h5.5M1196.5 259.5h-5.5M646.5 211.5h5.5M1196.5 211.5h-5.5M646.5 162.5h5.5M1196.5 162.5h-5.5M646.5 113.5h5.5M1196.5 113.5h-5.5M646.5 65.5h5.5M1196.5 65.5h-5.5M646.5 16.5h5.5M1196.5 16.5h-5.5" stroke="#262626" stroke-width="1" fill="none"/>
<rect x="646.5" y="16.5" width="550" height="389" stroke="#262626" stroke-width="1" fill="none"/>
<g font-size="14.3"><text x="646.5" y="424.9" text-anchor="middle">0</text><text x="738.1667" y="424.9" text-anchor="middle">1</text><text x="829.8333" y="424.9" text-anchor="middle">2</text><text x="921.5" y="424.9" text-anchor="middle">3</text><text x="1013.1667" y="424.9" text-anchor="middle">4</text><text x="1104.8333" y="424.9" text-anchor="middle">5</text><text x="1196.5" y="424.9" text-anchor="middle">6</text><text x="639.9" y="410.648" text-anchor="end">0.2</text><text x="639.9" y="362.023" text-anchor="end">0.4</text><text x="639.9" y="313.398" text-anchor="end">0.6</text><text x="639.9" y="264.773" text-anchor="end">0.8</text><text x="639.9" y="216.148" text-anchor="end">1</text><text x="639.9" y="167.523" text-anchor="end">1.2</text><text x="639.9" y="118.898" text-anchor="end">1.4</text><text x="639.9" y="70.273" text-anchor="end">1.6</text><text x="639.9" y="21.648" text-anchor="end">1.8</text></g>
<text x="922.7" y="10.7" font-size="14.52" text-anchor="middle">BTC Prices in Minute Scale (2018)</text>
<text x="921.1" y="444.6" font-size="14.45" text-anchor="middle">Normalized Minute Scale</text>
<text transform="translate(611.5 211) rotate(-90)" font-size="14.45" text-anchor="middle">Price ($)</text>
<text x="952.7" y="466" class="sub" text-anchor="middle">(b)</text>
<path d="M152.5 509.5V898.5M241.5 509.5V898.5M330.5 509.5V898.5M418.5 509.5V898.5M507.5 509.5V898.5M63.5 833.5H596.5M63.5 768.5H596.5M63.5 704.5H596.5M63.5 639.5H596.5M63.5 574.5H596.5" stroke="#e8e8e8" stroke-width="1" fill="none"/>
<polyline points="63.9,844.0 64.4,841.9 64.9,839.3 65.3,839.1 65.7,837.8 66.1,837.6 66.5,839.2 66.9,837.8 67.4,840.3 67.8,840.5 68.2,840.5 68.5,839.5 68.9,840.7 69.2,838.7 69.6,839.3 70.0,837.0 70.4,832.3 70.8,833.1 71.2,831.5 71.6,831.8 71.9,830.4 72.3,832.1 72.7,830.6 73.1,831.2 73.5,832.2 73.9,831.2 74.4,834.0 74.8,833.5 75.1,845.1 75.5,837.4 75.8,845.2 76.2,845.5 76.5,844.0 76.8,846.1 77.2,846.3 77.6,846.9 78.0,847.3 78.3,848.5 78.7,847.3 79.1,849.8 79.5,849.3 79.9,848.9 80.2,847.0 80.6,847.7 80.9,844.4 81.3,844.6 81.7,846.0 82.1,844.8 82.4,845.9 82.8,845.9 83.2,846.8 83.6,846.9 84.0,847.4 84.3,844.8 84.7,846.4 85.0,844.8 85.4,845.1 85.8,842.8 86.1,844.4 86.5,842.8 86.9,844.5 87.2,845.0 87.6,847.5 87.9,847.0 88.3,848.7 88.7,850.0 89.2,849.6 89.6,852.5 90.0,852.2 90.4,851.5 90.7,849.4 91.1,849.8 91.4,848.3 91.8,847.5 92.1,848.7 92.5,846.7 92.8,848.5 93.2,846.6 93.5,847.5 93.9,846.6 94.2,847.9 94.6,846.1 95.0,848.2 95.3,846.9 95.7,847.9 96.2,846.6 96.6,849.1 97.0,848.7 97.4,850.9 97.8,849.8 98.2,852.4 98.5,851.6 98.9,853.8 99.3,854.5 99.7,854.7 100.0,853.9 100.4,853.9 100.8,852.8 101.2,853.7 101.5,852.6 101.9,854.0 102.3,852.8 102.7,853.3 103.0,851.7 103.4,853.3 103.8,851.9 104.1,852.7 104.5,851.1 104.8,852.3 105.2,851.6 105.5,852.4 105.9,851.1 106.2,852.9 106.6,851.0 107.0,852.4 107.3,852.2 107.7,853.0 108.0,851.6 108.4,853.9 108.7,852.8 109.1,853.4 109.5,852.6 109.8,854.1 110.2,852.7 110.6,855.4 111.0,854.5 111.3,852.1 111.7,848.9 112.1,846.6 112.4,844.0 112.8,844.9 113.1,843.6 113.5,845.5 113.9,844.3 114.2,845.5 114.6,845.5 115.0,847.2 115.3,845.1 115.7,846.3 116.0,847.0 116.4,846.0 116.8,846.8 117.1,846.3 117.5,847.5 117.8,846.2 118.2,847.8 118.5,847.0 118.9,848.1 119.2,847.3 119.6,847.5 119.9,846.3 120.3,847.4 120.6,846.2 121.0,848.1 121.3,846.7 121.7,848.5 122.0,846.8 122.4,847.2 122.7,845.7 123.1,847.0 123.4,846.0 123.8,846.9 124.4,837.6 125.0,846.1 125.6,837.0 126.0,837.9 126.3,836.6 126.7,837.7 127.0,835.4 127.4,836.7 127.8,834.6 128.1,836.2 128.5,835.8 128.9,836.9 129.2,835.4 129.6,836.4 129.9,835.3 130.3,836.2 130.7,835.4 131.0,835.8 131.4,835.8 131.9,832.8 132.4,828.3 132.9,837.9 133.4,841.7 133.8,842.1 134.1,840.3 134.5,842.0 134.9,840.9 135.2,841.2 135.6,840.3 136.0,840.8 136.3,839.5 136.7,840.5 137.1,840.8 137.4,840.0 137.8,840.8 138.1,838.0 138.5,841.3 138.9,840.0 139.2,840.4 139.6,839.9 140.0,841.2 140.3,839.5 140.7,841.1 141.1,839.4 141.4,840.9 141.8,840.6 142.1,841.3 142.5,841.1 142.9,842.2 143.3,841.8 143.7,843.4 144.0,843.2 144.4,840.5 144.8,840.4 145.1,838.2 145.5,838.8 145.8,837.7 146.2,838.4 146.5,836.9 146.9,838.4 147.2,837.6 147.6,839.0 147.9,836.5 148.3,837.6 148.7,838.3 149.1,836.5 149.5,837.7 149.9,836.8 150.3,837.7 150.7,837.0 151.1,837.3 151.5,836.8 151.8,838.4 152.2,837.8 152.6,839.2 153.0,838.8 153.3,838.9 153.7,838.6 154.1,839.9 154.4,839.0 154.8,839.6 155.1,837.8 155.4,839.7 155.8,838.2 156.2,839.6 156.5,839.3 156.9,839.3 157.2,836.9 157.6,836.5 157.9,835.0 158.3,834.1 158.7,834.9 159.0,833.5 159.4,834.1 159.7,834.0 160.1,835.1 160.4,833.1 160.8,835.0 161.1,832.9 161.5,835.4 161.8,834.1 162.2,834.6 162.5,833.7 162.9,834.7 163.2,832.3 163.6,834.0 164.0,833.1 164.3,835.1 164.7,832.9 165.1,834.2 165.4,832.1 165.8,834.1 166.1,830.8 166.5,834.5 166.9,833.8 167.2,835.2 167.6,834.1 168.0,835.4 168.3,833.6 168.7,835.7 169.1,833.9 169.4,835.7 169.8,835.0 170.1,835.9 170.5,835.8 170.9,836.4 171.3,836.4 171.7,837.0 172.1,837.2 172.6,834.6 173.0,835.0 173.4,833.3 173.8,834.3 174.2,832.4 174.5,833.2 174.9,831.7 175.3,832.4 175.7,831.1 176.0,832.2 176.4,831.2 176.8,831.7 177.1,830.0 177.5,831.5 177.9,829.3 178.2,830.7 178.6,829.7 178.9,830.8 179.3,829.4 179.7,820.5 180.1,811.3 180.4,805.7 180.8,799.7 181.3,791.8 181.7,799.4 182.2,790.9 182.6,802.1 183.0,795.5 183.4,806.7 183.8,805.7 184.2,801.5 184.7,803.0 185.1,800.8 185.9,795.2 186.6,800.7 187.4,793.8 187.8,795.0 188.2,792.6 188.6,794.9 189.0,793.0 189.4,795.0 189.8,793.8 190.2,793.1 190.6,789.9 190.9,791.1 191.3,787.4 191.6,796.5 191.8,787.6 192.1,799.7 192.5,800.7 192.8,798.1 193.2,799.4 193.5,797.8 193.9,798.5 194.3,798.9 194.7,798.1 195.1,798.7 195.4,798.4 195.8,799.6 196.2,798.5 196.6,799.6 197.1,798.5 197.5,801.4 197.9,800.8 198.3,798.7 198.7,795.3 199.1,794.4 199.5,794.2 199.9,793.1 200.4,793.0 200.8,791.5 201.2,791.5 201.6,792.4 201.9,791.3 202.3,792.4 202.7,790.3 203.0,792.2 203.4,791.0 203.8,791.8 204.1,791.0 204.5,791.5 204.9,791.2 205.3,787.7 205.7,787.4 206.1,784.3 206.5,785.1 206.9,782.6 207.3,783.6 207.7,782.4 208.1,784.7 208.5,783.5 208.9,786.3 209.3,785.8 209.7,789.2 210.1,790.5 210.5,795.2 210.9,797.1 211.3,796.9 211.7,795.3 212.1,797.5 212.5,794.8 212.9,796.1 213.3,795.5 213.7,796.8 214.1,796.0 214.5,796.8 214.9,796.1 215.3,797.8 215.7,797.1 216.1,796.7 216.4,794.4 216.8,795.7 217.2,792.8 217.5,793.1 217.9,791.5 218.3,791.9 218.6,789.4 219.0,789.0 219.4,787.2 219.8,783.8 220.2,783.5 220.6,779.2 221.0,779.2 221.4,776.1 221.8,778.7 222.2,777.1 222.6,778.7 223.0,778.3 223.4,779.7 223.8,780.2 224.6,773.2 225.4,777.6 226.2,771.3 226.6,769.6 227.0,766.6 227.4,767.2 227.8,763.6 228.2,762.2 228.6,760.0 229.2,746.9 229.7,755.0 230.3,745.5 230.7,739.5 231.1,732.5 231.5,727.0 231.9,719.7 232.2,737.3 232.4,720.7 232.7,737.4 233.1,702.9 233.4,723.4 233.8,695.5 234.2,702.8 234.7,698.0 235.1,705.2 235.5,695.7 236.0,704.3 236.4,693.9 236.8,716.6 237.1,737.1 237.5,760.0 237.9,752.7 238.3,742.7 238.7,735.4 239.1,726.1 239.8,700.9 240.5,719.1 241.2,697.1 242.1,702.5 243.0,698.1 244.0,703.5 244.5,718.2 245.1,706.3 245.6,719.7 246.4,703.0 247.2,715.5 248.0,700.3 248.4,702.2 248.8,701.6 249.2,704.1 249.6,705.2 250.0,680.2 250.5,695.7 250.9,674.5 251.5,680.3 252.2,675.1 252.8,682.6 253.2,681.2 253.6,676.7 254.0,676.0 254.4,671.5 254.8,669.7 255.1,701.5 255.4,678.4 255.7,701.9 256.6,683.8 257.5,694.2 258.5,679.4 258.9,681.5 259.3,682.6 259.7,686.1 260.1,687.4 260.5,715.8 260.8,693.1 261.2,721.3 261.6,720.6 261.9,717.5 262.2,715.9 262.6,712.7 262.9,712.2 263.3,710.0 263.7,709.0 264.1,706.8 264.5,706.8 264.9,704.2 265.3,704.1 265.7,701.9 266.5,713.9 267.3,705.1 268.2,718.9 269.0,707.6 269.8,713.9 270.6,703.5 271.0,703.4 271.4,699.6 271.8,701.0 272.2,697.7 272.6,697.2 273.0,695.5 273.4,694.0 273.8,689.3 274.2,687.9 274.6,684.1 275.0,682.7 275.4,679.4 275.8,675.7 276.2,671.2 276.6,668.1 277.0,663.2 277.4,660.0 277.8,663.0 278.1,662.4 278.4,666.0 278.8,667.3 279.1,670.2 279.5,671.3 280.0,669.8 280.4,667.9 280.8,661.7 281.1,662.5 281.5,660.0 282.0,646.5 282.5,658.5 283.0,643.2 283.2,611.4 283.4,639.6 283.6,602.0 283.9,618.0 284.3,606.6 284.6,623.8 285.0,617.0 285.4,608.1 285.8,600.8 286.2,609.8 286.6,603.4 287.0,612.9 287.4,606.3 287.8,598.5 288.2,592.3 288.5,546.8 288.8,578.2 289.1,546.3 289.3,522.1 289.5,538.0 289.7,514.8 289.9,560.2 290.1,530.0 290.3,564.5 290.7,596.8 291.1,628.6 291.4,586.5 291.6,625.8 291.9,582.6 292.5,560.8 292.8,593.2 293.0,561.0 293.3,594.7 293.5,576.0 293.7,593.9 293.9,568.1 294.3,597.9 294.7,578.5 295.1,609.3 295.5,620.3 295.9,629.0 296.3,639.3 296.7,649.2 297.0,617.1 297.3,642.3 297.6,606.9 298.0,596.9 298.4,584.7 298.8,574.2 299.2,603.8 299.6,576.9 300.0,612.9 300.4,598.4 300.8,608.7 301.2,594.7 301.6,592.6 302.0,588.0 302.4,585.1 302.8,599.4 303.2,585.8 303.6,602.0 304.0,595.8 304.4,589.0 304.8,582.6 305.2,565.8 305.7,548.7 306.2,537.8 306.7,545.6 307.2,537.2 307.5,578.2 307.8,544.2 308.1,582.6 308.6,594.5 309.1,604.4 309.5,595.7 309.9,585.4 310.3,577.8 310.6,594.4 310.9,582.2 311.2,594.7 311.6,610.8 312.0,625.2 312.4,640.7 312.8,636.1 313.3,629.9 313.7,626.2 314.0,608.2 314.2,620.7 314.5,605.6 315.0,650.0 315.6,614.1 316.1,668.6 316.5,653.6 316.9,637.1 317.4,620.5 318.0,633.2 318.5,615.3 318.9,626.1 319.3,616.1 319.7,629.9 320.1,618.3 320.6,604.4 321.0,610.1 321.4,613.8 321.8,619.0 322.2,634.4 322.6,619.6 323.0,637.1 323.4,640.4 323.7,643.1 324.1,647.7 324.4,648.9 324.8,652.9 325.2,647.2 325.6,640.7 326.0,634.7 326.4,638.2 326.8,640.0 327.1,643.5 327.5,645.6 327.8,637.4 328.1,644.2 328.4,634.7 328.8,653.5 329.2,639.5 329.6,661.3 329.9,666.7 330.3,662.2 330.6,667.4 331.0,664.3 331.4,659.5 331.7,656.5 332.1,652.9 332.7,644.4 333.3,650.9 333.9,643.2 334.3,633.5 334.7,642.8 335.1,631.1 335.5,628.0 335.9,624.3 336.3,621.4 336.9,615.1 337.5,619.4 338.1,614.1 338.5,606.1 338.9,613.2 339.3,605.6 339.6,582.7 340.0,598.1 340.3,580.2 340.7,575.4 341.1,570.0 341.5,565.1 341.8,593.8 342.0,572.6 342.3,599.6 342.7,578.6 343.2,596.9 343.6,574.2 344.0,576.3 344.3,575.1 344.7,578.2 345.0,578.0 345.4,579.0 346.0,597.1 346.6,580.6 347.2,602.0 347.6,590.9 348.0,599.5 348.4,589.9 348.8,591.9 349.2,591.7 349.6,593.7 350.0,594.7 350.5,611.6 350.9,597.6 351.4,616.5 351.8,644.5 352.2,623.5 352.6,655.3 353.0,629.4 353.4,649.6 353.8,625.0 354.4,630.9 355.1,626.1 355.7,631.1 356.1,629.7 356.4,626.7 356.8,626.3 357.1,622.5 357.5,621.4 358.1,611.6 358.7,620.2 359.3,610.5 359.7,616.6 360.1,620.2 360.5,626.2 360.9,642.6 361.3,631.3 361.7,645.6 362.3,629.7 362.9,640.1 363.5,626.2 363.9,630.4 364.3,631.6 364.6,635.5 365.0,637.0 365.4,640.7 365.8,620.4 366.2,635.1 366.6,619.0 367.0,627.8 367.4,630.4 367.8,637.1 368.2,637.1 368.5,633.6 368.9,634.6 369.2,631.7 369.6,631.1 370.0,653.9 370.4,637.5 370.8,660.1 371.4,654.6 372.0,659.4 372.6,652.9 373.0,653.0 373.4,651.6 373.8,651.2 374.2,650.2 374.6,650.4 375.0,649.2 375.6,629.6 376.3,645.6 376.9,626.2 377.3,623.5 377.7,618.1 378.1,614.1 378.5,614.9 379.0,614.4 379.4,615.1 379.8,616.4 380.1,617.1 380.5,619.6 380.9,619.7 381.1,610.7 381.2,616.6 381.4,609.4 381.7,626.0 382.0,613.7 382.3,628.9 382.7,628.0 383.1,624.1 383.5,622.0 384.0,629.5 384.4,622.4 384.9,630.0 385.4,627.6 385.8,624.3 386.2,641.7 386.7,629.3 387.1,642.6 387.6,641.1 388.0,637.2 388.5,634.6 388.8,627.7 389.1,631.7 389.4,625.4 389.8,626.8 390.2,625.6 390.5,627.8 390.9,626.7 391.3,628.2 391.7,627.7 392.1,629.2 392.5,628.7 392.9,630.7 393.2,630.2 393.6,631.7 394.0,632.3 394.4,634.0 394.9,633.3 395.3,635.4 395.7,635.7 396.3,650.9 396.8,639.0 397.4,651.7 397.7,634.5 398.0,646.6 398.3,628.9 398.8,634.2 399.2,631.3 399.7,635.7 400.1,637.4 400.5,637.2 401.0,641.1 401.4,639.1 401.8,641.2 402.2,641.4 402.6,643.7 403.0,645.6 403.4,646.3 403.7,648.4 404.1,649.4 404.5,675.7 404.9,702.0 405.3,688.0 405.6,700.1 406.0,686.0 406.4,705.4 406.7,688.7 407.1,711.1 407.5,701.0 407.9,710.9 408.3,697.4 408.7,698.0 409.1,695.2 409.4,696.6 409.8,695.1 410.2,700.2 410.6,703.7 411.0,709.6 411.4,712.3 411.7,701.2 412.0,709.7 412.3,698.6 412.7,696.3 413.0,690.9 413.4,688.3 413.8,691.8 414.2,692.2 414.6,695.1 415.0,696.5 415.5,695.4 415.9,697.5 416.3,697.4 416.7,699.3 417.1,698.8 417.6,700.8 418.0,700.9 418.8,709.3 419.5,702.5 420.3,711.1 420.7,695.2 421.0,709.5 421.4,694.0 421.8,696.7 422.1,696.2 422.4,699.2 422.8,699.7 423.1,686.7 423.4,696.5 423.7,683.7 424.1,683.4 424.5,681.7 425.0,681.5 425.4,680.3 425.8,690.7 426.2,681.1 426.6,694.0 427.0,693.7 427.4,692.4 427.8,693.4 428.1,692.3 428.5,692.2 428.9,691.7 429.3,692.9 429.8,690.9 430.2,694.3 430.6,694.0 431.0,697.4 431.5,699.4 431.9,703.4 432.3,705.4 432.7,705.0 433.1,703.5 433.6,703.1 434.0,702.0 434.4,704.6 434.7,705.8 435.1,707.7 435.5,708.4 435.8,705.9 436.2,706.7 436.5,704.9 436.9,705.4 437.5,697.1 438.0,705.0 438.6,695.1 439.0,696.1 439.5,695.1 439.9,697.6 440.3,697.4 440.7,719.8 441.0,705.9 441.4,724.9 441.8,724.5 442.2,722.3 442.7,723.0 443.1,721.4 443.4,698.4 443.8,719.6 444.1,692.9 444.5,630.0 444.8,658.8 445.1,632.6 445.4,670.0 445.7,657.3 446.0,666.6 446.3,654.0 446.7,649.1 447.1,642.6 447.5,660.1 447.9,646.3 448.3,660.9 448.7,662.7 449.1,662.9 449.6,665.0 450.0,665.4 450.4,667.7 450.7,668.5 451.1,670.0 451.7,665.2 452.3,669.0 452.9,663.1 453.3,663.3 453.8,661.8 454.2,662.0 454.6,660.9 455.2,666.6 455.7,662.9 456.3,667.7 456.7,663.9 457.0,658.8 457.4,656.3 457.8,658.0 458.2,657.9 458.7,660.0 459.1,659.7 459.5,661.7 459.8,660.8 460.2,663.5 460.5,662.9 460.9,665.4 461.3,669.9 461.8,672.3 462.2,677.3 462.6,680.3 463.4,672.7 464.1,678.9 464.9,670.0 465.3,675.3 465.6,677.3 466.0,682.6 466.4,683.0 466.9,680.4 467.3,680.3 467.7,679.1 468.1,681.0 468.5,678.2 469.0,682.4 469.4,682.6 469.9,683.1 470.3,682.3 470.5,688.0 470.7,682.3 470.9,688.8 471.2,690.3 471.6,687.8 471.9,689.0 472.3,688.8 472.7,688.6 473.1,685.6 473.5,685.3 473.9,688.6 474.4,691.1 474.9,696.7 475.3,702.2 475.7,701.9 476.0,700.6 476.4,699.8 476.8,700.4 477.2,698.2 477.6,698.1 477.9,702.8 478.2,699.1 478.5,704.5 478.6,712.6 478.7,704.8 478.8,713.8 478.9,720.5 478.9,714.1 479.0,720.8 479.2,741.4 479.4,722.6 479.6,742.4 479.8,727.5 480.0,736.9 480.2,725.5 480.6,726.4 481.0,725.6 481.4,726.7 481.7,734.6 482.0,726.8 482.3,735.4 482.7,742.2 483.0,745.3 483.4,751.8 483.6,730.7 483.8,747.7 484.0,726.1 484.4,731.8 484.8,726.5 485.2,732.5 485.5,741.2 485.9,735.4 486.2,741.3 486.3,721.9 486.5,737.5 486.6,716.2 487.0,718.8 487.4,719.1 487.8,720.8 488.2,718.2 488.6,713.0 489.0,710.0 489.4,713.0 489.8,713.8 490.2,721.1 490.7,727.8 491.1,727.8 491.6,726.1 492.1,730.9 492.5,730.2 492.9,728.2 493.3,725.5 493.8,727.7 494.2,727.8 494.6,730.7 495.0,733.1 495.1,719.4 495.3,728.4 495.4,714.4 495.7,721.2 496.0,717.1 496.3,722.6 496.7,724.6 497.1,726.1 497.5,719.2 497.9,725.9 498.3,717.9 498.7,719.3 499.1,719.3 499.5,720.8 499.9,720.8 500.3,719.1 500.7,718.9 501.1,717.2 501.5,716.8 501.8,723.2 502.1,717.0 502.4,725.5 502.8,726.8 503.1,727.0 503.5,729.0 503.9,730.8 504.3,731.7 504.7,733.1 505.1,732.6 505.5,730.7 505.9,729.6 506.3,730.4 506.6,728.2 507.0,728.4 507.4,731.0 507.8,732.2 508.2,735.4 508.6,734.5 509.0,733.2 509.4,732.5 509.9,734.0 510.3,734.3 510.7,739.0 511.1,741.8 511.5,744.4 511.9,742.1 512.3,747.1 512.6,752.8 512.9,747.8 513.2,754.1 513.5,722.6 513.7,731.3 513.8,724.4 514.0,734.8 514.4,734.2 514.8,729.8 515.2,731.3 515.6,732.3 516.0,731.4 516.3,732.6 516.7,731.9 517.2,732.1 517.6,729.9 518.1,730.8 518.7,716.8 519.1,716.1 519.5,714.4 519.7,723.5 520.0,714.9 520.2,724.3 520.7,728.2 521.1,730.2 521.6,731.5 522.0,730.5 522.5,730.8 522.8,724.7 523.1,730.6 523.4,723.2 523.9,729.7 524.4,733.7 524.7,727.5 525.1,732.6 525.4,726.7 525.8,727.0 526.1,725.5 526.5,726.5 526.9,724.9 527.5,720.3 527.9,723.6 528.3,726.7 528.8,728.1 529.2,729.0 529.7,731.1 530.1,731.9" stroke="#0000ff" stroke-width="1.1" fill="none" stroke-linejoin="round"/>
<path d="M63.5 898.5v-5.5M63.5 509.5v5.5M152.5 898.5v-5.5M152.5 509.5v5.5M241.5 898.5v-5.5M241.5 509.5v5.5M330.5 898.5v-5.5M330.5 509.5v5.5M418.5 898.5v-5.5M418.5 509.5v5.5M507.5 898.5v-5.5M507.5 509.5v5.5M596.5 898.5v-5.5M596.5 509.5v5.5M63.5 898.5h5.5M596.5 898.5h-5.5M63.5 833.5h5.5M596.5 833.5h-5.5M63.5 768.5h5.5M596.5 768.5h-5.5M63.5 704.5h5.5M596.5 704.5h-5.5M63.5 639.5h5.5M596.5 639.5h-5.5M63.5 574.5h5.5M596.5 574.5h-5.5M63.5 509.5h5.5M596.5 509.5h-5.5" stroke="#262626" stroke-width="1" fill="none"/>
<rect x="63.5" y="509.5" width="533" height="389" stroke="#262626" stroke-width="1" fill="none"/>
<g font-size="14"><text x="63.5" y="917.9" text-anchor="middle">0</text><text x="152.3333" y="917.9" text-anchor="middle">1</text><text x="241.1667" y="917.9" text-anchor="middle">2</text><text x="330" y="917.9" text-anchor="middle">3</text><text x="418.8333" y="917.9" text-anchor="middle">4</text><text x="507.6667" y="917.9" text-anchor="middle">5</text><text x="596.5" y="917.9" text-anchor="middle">6</text><text x="56.9" y="903.54" text-anchor="end">2000</text><text x="56.9" y="838.7067" text-anchor="end">4000</text><text x="56.9" y="773.8733" text-anchor="end">6000</text><text x="56.9" y="709.04" text-anchor="end">8000</text><text x="56.9" y="644.2067" text-anchor="end">10000</text><text x="56.9" y="579.3733" text-anchor="end">12000</text><text x="56.9" y="514.54" text-anchor="end">14000</text></g>
<text x="330.1" y="504" font-size="14.08" text-anchor="middle">BTC Prices in Minute Scale (2019)</text>
<text x="329.1" y="937.5" font-size="14" text-anchor="middle">Normalized Minute Scale</text>
<text transform="translate(10.4 704) rotate(-90)" font-size="14" text-anchor="middle">Price ($)</text>
<text x="332" y="959" class="sub" text-anchor="middle">(c)</text>
<path d="M739.5 512.5V897.5M830.5 512.5V897.5M921.5 512.5V897.5M1013.5 512.5V897.5M1104.5 512.5V897.5M647.9 833.5H1195.9M647.9 769.5H1195.9M647.9 705.5H1195.9M647.9 640.5H1195.9M647.9 576.5H1195.9" stroke="#e8e8e8" stroke-width="1" fill="none"/>
<polyline points="648.2,805.3 648.6,806.4 649.0,805.8 649.5,807.7 649.9,807.3 650.3,808.5 650.7,807.2 651.0,802.3 651.4,803.1 651.8,803.2 652.2,801.6 652.6,802.4 652.9,801.5 653.3,802.6 653.7,800.2 654.1,800.9 654.5,801.1 655.0,799.1 655.4,798.6 655.8,797.7 656.3,791.0 656.9,795.5 657.4,789.5 657.8,791.3 658.1,791.8 658.5,794.4 658.9,795.7 659.3,795.1 659.7,797.5 660.1,797.7 660.5,797.0 660.9,794.1 661.3,794.0 661.7,792.3 662.1,793.0 662.5,791.5 662.9,793.0 663.2,791.7 663.6,793.4 664.0,791.8 664.4,792.8 664.8,791.6 665.2,788.2 665.6,786.9 666.0,784.7 666.4,785.9 666.9,784.4 667.3,785.7 667.7,785.8 668.1,786.9 668.5,784.1 668.9,784.4 669.3,783.0 669.7,783.2 670.0,782.1 670.4,781.9 670.8,780.4 671.1,781.2 671.5,780.3 672.0,784.3 672.5,786.8 672.9,787.4 673.3,785.9 673.7,786.5 674.1,785.3 674.5,786.9 674.9,785.8 675.3,785.8 675.6,787.0 676.0,786.8 676.3,787.8 676.7,787.4 677.0,789.0 677.4,789.0 677.8,790.2 678.2,789.9 678.6,791.1 679.0,791.2 679.4,791.5 679.7,790.0 680.1,790.9 680.5,788.6 680.8,789.7 681.2,789.0 681.9,783.9 682.7,786.9 683.4,782.5 683.8,781.8 684.2,779.8 684.6,778.8 685.0,777.1 685.4,777.8 685.8,776.2 686.2,777.8 686.5,776.3 686.9,778.2 687.3,775.3 687.7,777.1 688.1,778.0 688.5,776.1 688.9,779.2 689.2,776.5 689.6,777.5 690.0,776.9 690.4,777.1 690.8,778.2 691.2,777.1 691.6,778.2 692.0,777.6 692.4,778.8 692.9,778.6 693.3,780.2 693.7,779.8 694.2,774.4 694.8,778.8 695.3,772.8 695.7,773.4 696.1,772.4 696.5,773.7 696.8,771.5 697.2,772.1 697.6,771.8 698.0,771.7 698.4,772.0 698.7,769.4 699.1,769.7 699.5,768.0 699.8,769.0 700.2,767.3 700.6,769.3 701.0,769.4 701.4,771.5 701.8,771.7 702.2,770.5 702.6,767.2 703.0,765.9 703.4,763.5 703.8,764.1 704.2,762.8 704.6,765.0 705.0,763.5 705.4,764.3 705.9,762.1 706.3,765.8 706.7,765.7 707.1,768.3 707.5,766.8 708.0,768.7 708.4,769.4 708.8,770.6 709.2,771.4 709.6,771.2 710.0,773.2 710.4,772.7 710.8,774.4 711.2,773.0 711.5,770.8 711.9,770.2 712.2,767.1 712.6,766.3 713.0,773.6 713.3,767.0 713.7,775.5 714.1,775.8 714.4,773.8 714.8,776.7 715.2,772.9 715.5,773.3 715.9,772.8 716.3,773.4 716.7,770.3 717.1,771.8 717.4,770.7 717.8,770.7 718.2,769.0 718.6,769.5 719.0,770.7 719.3,770.3 719.7,772.4 720.1,773.0 720.4,774.2 720.8,774.9 721.2,777.7 721.6,778.3 722.0,783.0 722.4,782.5 722.8,784.9 723.2,783.3 723.6,786.0 724.0,785.8 724.4,786.6 724.7,785.3 725.1,786.7 725.5,785.5 725.8,787.0 726.2,786.8 726.6,787.8 727.0,786.8 727.4,787.9 727.8,787.9 728.2,787.2 728.5,785.4 728.9,785.7 729.3,784.3 729.6,784.5 730.0,783.0 730.4,784.3 730.8,783.3 731.2,785.6 731.6,785.2 732.0,784.4 732.4,782.3 732.8,784.2 733.2,780.3 733.6,780.8 733.9,779.4 734.3,780.9 734.7,778.9 735.0,780.2 735.4,779.8 735.8,782.8 736.2,781.9 736.6,786.1 737.0,787.9 737.4,795.3 737.7,789.9 738.1,796.6 738.5,797.2 738.8,795.8 739.2,797.2 739.6,795.5 739.9,797.2 740.3,796.6 740.8,799.1 741.3,799.8 741.6,817.2 742.0,833.4 742.4,847.5 742.7,829.6 743.0,844.1 743.3,825.8 743.7,826.5 744.2,826.0 744.6,826.9 745.0,826.1 745.4,823.7 745.8,823.6 746.2,821.5 746.6,834.5 746.9,824.1 747.3,839.9 747.7,831.2 748.0,836.8 748.4,830.2 748.8,830.7 749.2,828.2 749.6,828.8 750.0,828.0 750.5,818.2 751.1,826.6 751.6,815.0 752.0,813.6 752.3,810.6 752.7,809.6 753.1,813.5 753.4,816.0 753.8,819.3 754.2,820.2 754.5,820.6 754.9,822.5 755.2,822.5 755.6,823.7 756.1,815.5 756.5,821.4 757.0,812.8 757.4,813.2 757.7,810.8 758.1,811.8 758.5,809.9 758.8,810.9 759.2,810.1 759.6,811.0 760.0,809.8 760.4,811.3 760.7,810.0 761.1,812.2 761.5,811.5 761.9,811.8 762.4,818.2 763.0,812.8 763.5,819.3 763.9,819.8 764.4,817.8 764.8,821.0 765.2,820.4 765.6,819.6 766.0,816.1 766.4,816.5 766.8,813.9 767.2,815.8 767.6,814.7 768.0,817.2 768.4,817.2 769.0,807.9 769.5,813.6 770.1,806.3 770.5,807.7 770.8,807.5 771.2,808.8 771.5,808.7 771.9,810.2 772.2,810.7 772.7,810.5 773.1,808.8 773.6,808.4 774.3,802.6 775.1,807.0 775.8,801.9 776.2,803.2 776.6,801.2 777.0,803.0 777.3,801.9 777.7,803.6 778.1,802.2 778.5,803.0 778.9,804.7 779.3,804.9 779.7,808.1 780.1,808.4 780.5,809.6 780.9,808.4 781.3,809.3 781.6,808.1 782.0,809.3 782.4,809.1 782.8,809.5 783.4,805.2 783.8,806.9 784.2,806.6 784.6,808.4 785.0,809.0 785.4,810.2 785.7,810.1 786.1,812.0 786.5,812.2 786.8,814.0 787.2,813.8 787.6,806.3 787.9,812.2 788.3,805.7 788.7,805.6 789.1,803.7 789.5,805.3 789.8,805.0 790.2,805.8 790.6,803.8 791.0,804.6 791.4,805.5 791.8,803.0 792.2,805.5 792.6,805.7 793.0,806.7 793.4,806.5 793.8,809.2 794.2,809.5 794.6,809.6 794.9,808.0 795.3,808.2 795.7,805.9 796.0,806.2 796.4,805.2 796.8,805.1 797.2,802.4 797.6,801.6 798.0,799.8 798.4,801.9 798.8,798.5 799.2,799.7 799.5,798.5 799.9,800.2 800.3,797.9 800.7,798.7 801.1,799.2 801.4,797.5 801.8,798.2 802.2,796.9 802.5,798.1 802.9,796.4 803.3,799.3 803.6,796.4 804.0,797.0 804.5,794.3 805.0,790.0 805.4,783.6 805.8,777.0 806.1,781.9 806.5,785.7 806.9,785.4 807.2,782.9 807.6,785.0 807.9,783.1 808.3,783.5 808.7,783.4 809.1,781.3 809.5,782.0 809.9,780.3 810.3,785.2 810.8,781.6 811.2,786.8 811.6,786.7 812.0,784.1 812.4,784.4 812.8,781.6 813.2,781.3 813.6,780.7 814.0,778.1 814.4,780.4 814.8,777.0 815.3,770.3 815.9,775.7 816.4,768.9 816.8,770.1 817.1,769.2 817.5,770.5 817.9,772.0 818.2,771.6 818.6,773.8 818.8,791.0 818.9,775.1 819.1,791.1 819.5,788.6 819.8,784.6 820.2,782.4 820.6,785.5 820.9,787.2 821.3,790.0 821.7,783.7 822.0,789.8 822.4,783.5 822.9,777.7 823.5,782.4 824.0,777.0 824.4,775.1 824.7,772.2 825.1,770.5 825.5,772.2 825.9,772.8 826.3,775.5 826.7,777.0 827.1,776.7 827.5,773.9 827.9,774.7 828.3,772.7 828.7,772.9 829.1,769.5 829.6,771.7 830.0,770.0 830.4,771.1 830.8,770.0 831.2,772.0 831.6,771.6 832.0,772.4 832.4,772.3 832.8,774.4 833.2,774.8 833.7,778.0 834.1,780.2 834.6,783.5 835.0,783.6 835.4,781.2 835.7,781.1 836.1,778.6 836.5,778.6 836.9,780.3 837.3,781.4 837.7,783.4 838.1,784.6 838.5,785.9 838.9,784.6 839.3,786.5 839.7,785.7 840.1,785.8 840.5,783.9 840.9,784.4 841.3,783.0 841.7,782.2 842.1,780.2 842.6,779.6 843.0,778.1 843.4,778.1 843.8,775.8 844.2,776.4 844.6,775.4 845.0,775.8 845.3,774.8 845.7,775.3 846.1,774.0 846.4,775.7 846.8,774.8 847.2,775.3 847.6,773.7 848.0,773.8 848.4,772.7 848.6,766.2 848.9,770.8 849.1,765.1 849.5,771.1 850.0,775.9 850.4,776.1 850.7,774.0 851.1,774.8 851.5,773.0 851.8,773.9 852.2,772.7 852.6,773.2 853.0,772.8 853.5,774.0 853.9,772.5 854.3,773.8 854.7,774.1 855.0,773.1 855.4,773.9 855.8,772.9 856.1,774.1 856.5,773.8 856.9,776.3 857.2,772.9 857.6,774.3 858.0,772.3 858.3,773.5 858.7,772.7 859.1,773.1 859.5,771.5 860.0,771.9 860.4,770.3 860.8,770.5 861.2,776.2 861.5,770.5 861.9,778.1 862.3,778.4 862.6,776.6 863.0,777.9 863.4,776.4 863.7,776.9 864.1,775.9 864.5,777.0 864.8,776.9 865.2,778.9 865.6,779.0 865.9,782.2 866.3,781.3 866.7,780.6 867.1,778.0 867.5,777.3 867.9,774.8 868.2,775.3 868.6,774.3 869.0,776.7 869.3,775.3 869.6,776.7 870.0,776.5 870.4,777.3 870.8,776.6 871.2,777.8 871.6,776.3 872.0,778.4 872.4,777.6 872.8,778.1 873.1,779.0 873.5,777.5 873.8,778.8 874.2,777.5 874.5,778.4 874.9,777.5 875.3,776.5 875.7,775.1 876.1,774.8 876.5,772.7 876.9,774.1 877.4,773.3 877.8,774.2 878.2,774.3 878.6,775.6 879.0,776.5 879.4,778.5 879.8,779.2 880.2,780.0 880.6,778.9 881.0,781.5 881.3,778.5 881.7,781.5 882.1,780.9 882.5,781.9 882.9,782.6 883.3,780.6 883.7,781.5 884.0,779.2 884.4,780.5 884.8,779.9 885.2,779.7 885.6,779.7 885.9,779.4 886.3,780.0 886.7,778.9 887.0,779.5 887.4,778.7 887.8,779.1 888.1,778.6 888.5,778.6 888.9,780.1 889.3,779.6 889.7,781.7 890.1,781.3 890.5,782.0 890.9,779.9 891.3,781.8 891.6,778.1 892.0,781.7 892.4,780.1 892.8,780.3 893.2,780.1 893.5,778.7 893.9,781.1 894.3,777.9 894.6,778.3 895.0,777.5 895.4,778.4 895.7,776.9 896.0,777.8 896.4,776.5 896.8,777.0 897.1,776.5 897.5,778.0 898.0,777.6 898.4,779.5 898.8,779.2 899.2,779.1 899.6,776.9 900.0,778.5 900.4,779.2 900.8,777.7 901.2,779.3 901.5,778.2 901.9,778.8 902.3,777.0 902.7,778.0 903.1,780.8 903.4,778.1 903.8,779.4 904.2,778.0 904.5,779.9 904.9,779.6 905.3,780.4 905.7,779.1 906.1,780.9 906.4,779.7 906.8,781.3 907.2,780.2 907.6,780.7 908.0,780.9 908.3,779.5 908.7,780.7 909.0,780.2 909.4,780.6 909.7,779.0 910.1,780.6 910.4,779.0 910.8,779.6 911.2,780.1 911.6,779.1 912.0,779.7 912.3,778.2 912.7,781.3 913.1,778.5 913.5,778.5 913.9,778.3 914.3,777.2 914.7,777.5 915.1,775.6 915.5,775.6 915.9,774.3 916.3,774.2 916.7,774.7 917.0,773.2 917.4,774.9 917.7,773.2 918.1,774.5 918.4,772.7 918.8,773.7 919.1,772.9 919.5,773.1 919.9,772.4 920.3,768.6 920.7,769.5 921.1,767.7 921.5,760.5 921.8,767.2 922.2,760.1 922.4,751.9 922.6,760.0 922.8,751.4 923.2,753.6 923.6,753.0 924.0,755.3 924.4,755.8 924.8,756.5 925.1,754.3 925.5,756.3 925.8,754.8 926.1,755.7 926.5,754.7 926.9,754.2 927.4,751.9 927.8,750.9 928.2,749.3 928.6,744.5 928.9,748.6 929.3,742.8 929.5,756.3 929.6,743.7 929.8,759.0 930.3,753.2 930.9,758.4 931.4,752.5 931.8,753.8 932.2,753.1 932.6,754.9 933.0,754.7 933.4,753.0 933.9,750.1 934.3,748.5 934.7,746.0 935.1,748.8 935.5,744.6 935.9,747.4 936.2,745.8 936.6,747.8 937.0,746.2 937.4,747.1 937.8,747.6 938.2,745.5 938.6,746.7 938.9,744.4 939.3,745.7 939.7,743.6 940.1,743.8 940.5,745.8 940.8,746.4 941.2,748.2 941.6,750.9 942.1,751.3 942.5,753.6 942.9,753.2 943.3,751.0 943.6,750.4 944.0,749.0 944.4,748.2 944.8,747.7 945.1,746.6 945.5,749.3 945.9,745.1 946.2,745.7 946.6,744.9 947.0,745.5 947.3,744.1 947.7,745.9 948.1,744.2 948.4,745.5 948.8,744.9 949.1,739.1 949.5,742.6 949.8,737.9 950.2,740.8 950.5,741.0 950.9,743.8 951.3,744.8 951.6,743.7 952.0,744.9 952.4,744.5 952.7,745.7 953.1,746.0 953.5,747.5 953.9,746.5 954.3,748.6 954.6,747.3 955.0,748.8 955.4,748.4 955.8,749.8 956.2,749.8 956.6,748.2 957.0,749.3 957.3,747.2 957.7,748.8 958.1,746.7 958.5,747.1 958.9,748.1 959.2,748.7 959.6,750.6 960.0,750.1 960.3,752.2 960.7,752.5 961.1,753.1 961.5,751.9 962.0,752.1 962.4,750.2 962.8,751.4 963.2,751.9 963.5,750.7 963.9,750.7 964.3,749.3 964.6,750.3 965.0,749.3 965.4,749.8 965.8,748.2 966.2,749.5 966.5,747.3 966.9,748.5 967.3,747.8 967.7,747.6 968.1,746.5 968.5,744.2 968.9,744.2 969.3,742.8 969.9,749.7 970.4,745.0 971.0,751.4 971.3,760.2 971.7,753.8 972.0,761.2 972.4,763.4 972.7,765.5 973.1,767.7 973.5,767.2 974.0,766.0 974.4,766.5 974.8,765.5 975.2,766.4 975.6,765.3 976.0,767.3 976.4,766.6 976.8,768.0 977.2,767.3 977.6,769.0 978.0,768.8 978.4,768.7 978.7,767.1 979.1,767.7 979.5,766.4 979.8,766.9 980.2,765.5 980.6,765.4 981.0,764.3 981.4,766.0 981.7,764.1 982.1,765.3 982.5,764.5 982.9,764.4 983.2,765.0 983.6,764.2 984.0,764.5 984.3,764.1 984.6,766.4 985.0,764.4 985.4,763.7 985.9,761.2 986.3,761.9 986.7,760.1 987.1,760.3 987.5,757.7 988.0,758.4 988.4,757.4 988.8,756.8 989.2,757.2 989.6,756.0 990.0,757.6 990.3,756.5 990.7,757.6 991.1,756.3 991.5,756.8 991.9,757.6 992.4,756.3 992.8,756.3 993.2,755.8 993.6,756.4 994.0,756.4 994.4,758.1 994.8,757.9 995.2,760.6 995.5,760.6 995.9,763.3 996.2,763.9 996.6,763.3 997.0,764.7 997.3,764.3 997.6,765.1 998.0,765.0 998.4,764.5 998.7,763.1 999.1,763.5 999.5,760.2 999.8,761.5 1000.2,760.1 1000.6,760.8 1000.9,760.0 1001.3,760.5 1001.7,759.6 1002.0,760.8 1002.4,760.1 1002.8,760.3 1003.1,758.3 1003.5,760.0 1003.8,757.9 1004.1,759.3 1004.5,757.9 1004.9,758.2 1005.3,756.6 1005.7,759.2 1006.1,757.6 1006.5,759.4 1006.9,757.3 1007.3,759.0 1007.6,760.3 1008.0,759.5 1008.3,761.4 1008.7,760.2 1009.0,762.8 1009.4,762.3 1009.8,762.8 1010.1,761.6 1010.5,762.4 1010.9,760.7 1011.2,761.5 1011.6,761.2 1012.0,761.1 1012.4,760.7 1012.8,761.3 1013.1,759.7 1013.5,760.3 1013.9,759.5 1014.3,759.5 1014.7,760.0 1015.1,759.0 1015.5,760.3 1015.8,759.8 1016.2,761.1 1016.6,760.1 1017.0,761.2 1017.4,761.1 1017.8,758.1 1018.2,758.7 1018.6,756.8 1019.0,756.3 1019.5,753.2 1019.9,753.2 1020.3,751.4 1020.7,751.4 1021.0,749.8 1021.4,751.0 1021.7,749.3 1022.1,750.1 1022.4,748.7 1022.8,749.4 1023.1,748.1 1023.5,748.2 1023.9,749.6 1024.2,748.0 1024.6,749.4 1025.0,749.5 1025.3,750.6 1025.7,750.3 1026.1,751.0 1026.5,748.7 1026.8,750.2 1027.2,749.3 1027.6,750.8 1028.1,751.5 1028.5,752.8 1028.9,753.0 1029.2,751.6 1029.6,752.2 1030.0,748.8 1030.4,751.7 1030.7,750.3 1031.1,750.1 1031.5,749.5 1031.8,748.0 1032.2,749.0 1032.5,747.3 1032.9,746.6 1033.3,746.5 1033.8,744.0 1034.2,743.1 1034.5,736.1 1034.8,742.5 1035.1,734.4 1035.2,730.0 1035.4,733.1 1035.5,728.3 1035.9,729.5 1036.3,729.0 1036.8,731.4 1037.2,731.8 1037.6,731.0 1037.9,729.4 1038.3,729.5 1038.7,727.5 1039.0,727.9 1039.4,726.5 1039.8,727.9 1040.1,727.2 1040.5,729.4 1040.9,730.0 1041.2,732.0 1041.6,731.8 1042.3,720.1 1043.1,729.2 1043.8,719.5 1044.1,728.7 1044.4,721.9 1044.7,730.9 1045.1,731.1 1045.4,729.1 1045.8,729.3 1046.2,726.8 1046.5,727.6 1046.9,725.7 1047.5,719.3 1048.0,723.5 1048.6,717.8 1049.0,719.5 1049.5,719.3 1049.9,720.4 1050.3,722.4 1050.6,722.5 1051.0,724.3 1051.3,725.2 1051.7,726.5 1052.1,725.4 1052.6,722.4 1053.0,721.3 1053.4,715.1 1053.9,721.2 1054.3,714.3 1054.8,709.4 1055.2,702.9 1055.6,692.4 1056.0,694.1 1056.5,694.3 1056.9,696.8 1057.3,710.4 1057.8,698.4 1058.2,713.4 1058.5,702.1 1058.8,711.3 1059.1,699.4 1059.5,698.4 1060.0,695.0 1060.4,694.2 1060.5,703.1 1060.6,696.5 1060.7,706.4 1061.1,705.6 1061.5,702.3 1061.8,701.5 1062.2,698.5 1062.6,697.7 1063.0,697.5 1063.5,694.0 1063.9,692.4 1064.3,687.2 1064.8,691.6 1065.2,686.3 1065.6,687.8 1065.9,688.4 1066.3,690.9 1066.7,690.6 1067.0,693.7 1067.4,694.2 1067.8,694.3 1068.3,692.3 1068.7,692.4 1069.1,689.2 1069.6,685.0 1070.0,682.0 1070.4,670.6 1070.9,679.0 1071.3,668.8 1071.5,661.6 1071.6,667.6 1071.8,661.0 1072.2,664.4 1072.7,667.0 1073.1,670.6 1073.5,665.5 1074.0,670.6 1074.4,664.5 1074.6,657.2 1074.9,661.4 1075.1,655.2 1075.5,654.0 1075.9,655.7 1076.2,654.9 1076.6,657.5 1076.9,668.9 1077.1,658.0 1077.4,670.6 1077.9,659.2 1078.1,614.8 1078.6,586.6 1079.0,604.6 1079.3,587.4 1079.7,605.8 1080.2,608.9 1080.7,610.8 1081.0,591.1 1081.4,609.1 1081.7,589.6 1082.1,595.7 1082.6,598.6 1083.0,604.8 1083.4,599.1 1083.8,602.1 1084.2,596.7 1084.5,583.0 1084.9,593.8 1085.2,582.6 1085.6,580.9 1086.0,576.6 1086.4,574.5 1086.8,566.2 1087.2,557.4 1087.5,534.2 1087.7,557.4 1088.0,537.2 1088.2,564.4 1088.5,551.2 1088.9,561.4 1089.2,550.3 1089.7,556.0 1090.2,560.4 1090.6,554.2 1090.9,546.4 1091.3,540.2 1091.7,535.0 1092.1,527.5 1092.5,522.1 1092.8,531.7 1093.0,526.1 1093.3,534.2 1093.6,523.1" stroke="#0000ff" stroke-width="1.1" fill="none" stroke-linejoin="round"/>
<path d="M647.5 897.5v-5.5M647.5 512.5v5.5M739.5 897.5v-5.5M739.5 512.5v5.5M830.5 897.5v-5.5M830.5 512.5v5.5M921.5 897.5v-5.5M921.5 512.5v5.5M1013.5 897.5v-5.5M1013.5 512.5v5.5M1104.5 897.5v-5.5M1104.5 512.5v5.5M1195.5 897.5v-5.5M1195.5 512.5v5.5M647.9 897.5h5.5M1195.9 897.5h-5.5M647.9 833.5h5.5M1195.9 833.5h-5.5M647.9 769.5h5.5M1195.9 769.5h-5.5M647.9 705.5h5.5M1195.9 705.5h-5.5M647.9 640.5h5.5M1195.9 640.5h-5.5M647.9 576.5h5.5M1195.9 576.5h-5.5M647.9 512.5h5.5M1195.9 512.5h-5.5" stroke="#262626" stroke-width="1" fill="none"/>
<rect x="647.9" y="512.5" width="548" height="385" stroke="#262626" stroke-width="1" fill="none"/>
<g font-size="15"><text x="647.9" y="916.9" text-anchor="middle">0</text><text x="739.2333" y="916.9" text-anchor="middle">1</text><text x="830.5667" y="916.9" text-anchor="middle">2</text><text x="921.9" y="916.9" text-anchor="middle">3</text><text x="1013.2333" y="916.9" text-anchor="middle">4</text><text x="1104.5667" y="916.9" text-anchor="middle">5</text><text x="1195.9" y="916.9" text-anchor="middle">6</text><text x="641.3" y="902.9" text-anchor="end">0</text><text x="641.3" y="838.7333" text-anchor="end">0.5</text><text x="641.3" y="774.5667" text-anchor="end">1</text><text x="641.3" y="710.4" text-anchor="end">1.5</text><text x="641.3" y="646.2333" text-anchor="end">2</text><text x="641.3" y="582.0667" text-anchor="end">2.5</text><text x="641.3" y="517.9" text-anchor="end">3</text></g>
<text x="922.2" y="505.5" font-size="15.86" text-anchor="middle">BTC Prices in Minute Scale (2020)</text>
<text x="921.6" y="937.8" font-size="15.78" text-anchor="middle">Normalized Minute Scale</text>
<text transform="translate(612.8 705) rotate(-90)" font-size="15.78" text-anchor="middle">Price ($)</text>
<text x="952.7" y="959" class="sub" text-anchor="middle">(d)</text>
<path d="M453.5 1036.5V1421.5M533.5 1036.5V1421.5M613.5 1036.5V1421.5M693.5 1036.5V1421.5M773.5 1036.5V1421.5M853.5 1036.5V1421.5M373.5 1378.5H909M373.5 1335.5H909M373.5 1293.5H909M373.5 1250.5H909M373.5 1207.5H909M373.5 1164.5H909M373.5 1122.5H909M373.5 1079.5H909" stroke="#e8e8e8" stroke-width="1" fill="none"/>
<polyline points="373.4,1388.0 373.7,1383.0 374.1,1385.8 374.4,1381.4 374.9,1367.0 375.3,1350.3 375.5,1340.2 375.8,1349.0 376.0,1337.1 376.7,1363.5 376.9,1394.2 377.2,1364.3 377.4,1394.5 377.6,1365.1 377.9,1383.6 378.1,1354.1 378.4,1343.7 378.8,1352.7 379.1,1341.8 379.7,1329.6 380.0,1322.4 380.2,1328.2 380.5,1320.2 380.8,1303.6 381.1,1313.7 381.4,1297.6 381.8,1288.6 382.2,1276.5 382.4,1286.0 382.6,1278.2 382.8,1288.2 383.0,1281.4 383.1,1288.2 383.3,1280.7 383.5,1295.2 383.8,1282.7 384.0,1297.6 384.2,1323.4 384.5,1297.7 384.7,1325.9 384.9,1348.4 385.0,1326.3 385.2,1356.0 385.3,1369.5 385.5,1357.0 385.6,1374.8 386.3,1322.1 386.7,1340.7 387.1,1356.9 387.3,1335.3 387.6,1349.1 387.8,1331.5 388.1,1312.5 388.4,1326.7 388.7,1311.7 389.1,1292.5 389.4,1303.0 389.6,1292.7 389.9,1307.0 390.1,1339.5 390.4,1317.1 390.6,1340.0 391.3,1312.7 391.5,1341.0 391.7,1321.1 391.9,1343.7 392.3,1338.0 392.8,1330.4 393.2,1325.9 393.6,1322.0 394.0,1316.2 394.4,1311.7 394.8,1317.6 395.1,1321.4 395.5,1327.7 396.0,1337.7 396.5,1347.5 396.8,1385.8 397.1,1348.8 397.4,1387.9 397.8,1374.2 398.1,1357.9 398.5,1345.6 398.9,1351.7 399.4,1355.9 399.8,1363.5 400.5,1369.1 400.9,1340.6 401.2,1359.5 401.6,1337.1 401.9,1365.0 402.3,1346.1 402.6,1369.1 402.8,1357.4 403.0,1365.6 403.2,1354.1 403.5,1380.0 403.7,1357.6 404.0,1384.2 404.4,1374.1 404.9,1361.6 405.3,1351.3 405.7,1340.9 405.9,1314.8 406.1,1339.0 406.3,1304.7 406.5,1331.5 406.8,1309.0 407.0,1338.1 407.4,1356.7 407.8,1343.0 408.2,1358.8 408.7,1352.0 409.2,1342.8 409.6,1344.0 410.1,1344.7 410.4,1334.2 410.7,1341.6 411.0,1331.5 411.5,1326.6 412.0,1320.2 412.3,1307.6 412.6,1320.0 412.9,1304.2 413.1,1324.0 413.2,1309.3 413.4,1324.0 413.7,1313.8 414.0,1322.9 414.3,1312.7 414.8,1300.0 415.3,1284.5 415.6,1314.5 415.9,1294.2 416.2,1314.6 416.5,1300.6 416.9,1311.9 417.2,1297.6 417.3,1272.6 417.5,1296.2 417.6,1269.4 417.8,1251.2 418.5,1223.2 418.8,1236.9 419.1,1224.6 419.4,1238.3 419.8,1250.3 420.2,1258.7 420.6,1246.0 421.1,1229.5 421.5,1216.8 421.9,1232.7 422.2,1218.5 422.6,1237.2 423.0,1228.1 423.3,1236.9 423.7,1227.5 424.0,1214.5 424.2,1226.5 424.5,1210.3 424.9,1226.0 425.3,1239.4 425.7,1233.7 426.0,1227.0 426.4,1222.2 426.8,1214.0 427.1,1203.9 427.6,1187.8 428.0,1197.9 428.5,1185.6 429.0,1199.3 429.4,1190.0 429.9,1199.6 430.2,1173.3 430.4,1198.2 430.7,1168.4 430.9,1150.8 431.2,1163.1 431.4,1143.7 431.9,1148.0 432.3,1150.1 433.0,1136.1 433.2,1157.6 433.5,1136.7 433.7,1165.2 433.9,1216.9 434.0,1186.0 434.2,1225.4 434.3,1243.6 434.5,1231.4 434.6,1249.0 434.9,1204.2 435.2,1246.3 435.5,1197.4 435.9,1205.9 436.2,1211.1 436.6,1218.9 436.8,1195.9 437.1,1209.8 437.3,1189.9 437.6,1240.6 437.9,1193.4 438.2,1256.6 438.6,1228.0 438.9,1245.5 439.3,1222.2 439.8,1237.9 440.2,1249.5 440.7,1265.2 441.0,1237.5 441.4,1264.8 441.7,1232.9 442.1,1225.0 442.4,1213.8 442.8,1206.0 443.2,1220.3 443.6,1231.8 444.3,1185.6 444.8,1197.3 445.2,1206.0 445.5,1235.1 445.7,1207.0 446.0,1238.3 446.4,1237.7 446.9,1229.7 447.3,1231.8 447.7,1214.9 448.0,1231.8 448.4,1208.2 448.9,1192.1 449.3,1203.5 449.8,1192.0 450.2,1186.8 450.6,1179.1 451.1,1170.5 451.6,1160.9 452.0,1156.7 452.3,1149.4 452.7,1144.7 453.0,1140.6 453.5,1151.6 454.0,1160.8 454.5,1152.2 455.0,1140.6 455.3,1112.0 455.7,1132.3 456.0,1107.3 456.3,1114.7 456.7,1108.1 457.0,1115.4 457.5,1150.7 457.9,1161.8 458.2,1169.3 458.6,1179.0 458.8,1155.8 459.1,1177.9 459.3,1146.7 459.8,1159.3 460.3,1169.9 460.7,1149.7 461.1,1126.5 461.6,1121.5 462.1,1136.7 462.6,1151.7 463.1,1139.1 463.6,1123.5 464.1,1142.9 464.6,1158.8 465.1,1149.3 465.6,1136.6 465.9,1176.6 466.3,1145.5 466.6,1180.0 467.1,1179.0 467.6,1174.9 468.1,1161.8 468.6,1146.7 468.9,1195.9 469.1,1164.1 469.4,1203.2 469.8,1193.4 470.2,1181.0 470.6,1166.0 471.0,1177.0 471.4,1160.8 471.8,1157.7 472.3,1153.5 472.7,1150.7 472.9,1162.8 473.2,1153.1 473.4,1166.9 473.9,1153.2 474.4,1136.6 474.7,1130.3 475.1,1134.7 475.4,1128.5 475.7,1143.0 476.1,1129.5 476.4,1146.7 476.7,1127.2 476.9,1145.6 477.2,1126.5 477.6,1126.5 478.0,1121.6 478.4,1121.5 478.7,1131.8 479.1,1123.8 479.4,1132.6 479.8,1150.1 480.1,1137.0 480.5,1150.7 480.8,1138.4 481.2,1149.2 481.5,1136.6 481.8,1126.7 482.2,1133.2 482.5,1126.5 482.9,1134.4 483.4,1128.5 483.8,1134.6 484.0,1153.1 484.3,1138.4 484.5,1159.8 485.0,1150.7 485.5,1140.6 485.9,1132.8 486.4,1140.0 486.8,1132.6 487.0,1115.9 487.3,1127.8 487.5,1112.4 487.9,1116.8 488.4,1120.9 488.8,1125.5 489.1,1114.7 489.5,1121.3 489.8,1112.4 490.3,1116.5 490.8,1118.4 491.2,1107.9 491.6,1094.2 492.0,1088.6 492.4,1080.1 492.7,1093.1 493.1,1082.4 493.4,1098.3 493.9,1095.8 494.4,1090.2 494.8,1105.2 495.2,1118.4 495.9,1114.4 496.1,1183.9 496.2,1118.9 496.4,1188.1 496.7,1153.4 497.1,1179.8 497.4,1150.7 497.7,1143.0 497.9,1149.8 498.2,1142.7 498.5,1171.2 498.9,1151.1 499.2,1177.0 499.5,1151.8 499.9,1172.2 500.2,1148.7 500.7,1166.9 501.2,1183.0 501.6,1191.4 502.1,1191.9 502.5,1197.1 502.8,1211.8 503.2,1202.8 503.5,1216.3 503.8,1201.4 504.2,1213.6 504.5,1201.2 504.8,1218.1 505.2,1204.9 505.5,1219.3 506.0,1196.3 506.5,1170.9 506.8,1163.3 507.2,1169.4 507.5,1160.8 508.0,1160.3 508.5,1158.8 508.8,1172.8 509.2,1161.0 509.5,1173.9 509.8,1185.2 510.2,1174.9 510.5,1186.0 511.0,1162.3 511.5,1134.6 512.0,1141.2 512.5,1146.7 512.9,1150.5 513.2,1150.6 513.6,1152.7 513.9,1136.1 514.3,1152.6 514.6,1130.5 514.9,1176.5 515.3,1139.8 515.6,1181.0 515.9,1159.0 516.3,1180.3 516.6,1155.8 516.9,1141.1 517.3,1150.0 517.6,1135.6 517.9,1159.6 518.3,1138.7 518.6,1161.8 518.9,1131.0 519.3,1158.6 519.6,1126.5 520.1,1127.6 520.6,1126.0 520.9,1144.8 521.3,1126.2 521.6,1150.7 521.8,1132.2 521.9,1146.1 522.1,1125.5 522.4,1164.4 522.8,1130.0 523.1,1170.9 523.6,1162.5 524.0,1149.1 524.5,1140.6 524.9,1157.5 525.2,1170.9 525.7,1195.1 525.8,1202.0 525.9,1196.9 526.0,1202.6 526.4,1205.7 526.9,1206.6 527.3,1210.5 527.7,1233.9 528.2,1216.6 528.6,1234.1 529.0,1239.7 529.5,1234.6 529.9,1242.0 530.2,1259.4 530.6,1273.5 531.0,1270.3 531.5,1265.8 531.9,1263.0 532.1,1295.1 532.3,1274.3 532.5,1302.4 532.9,1373.2 533.3,1324.7 533.8,1273.5 534.3,1280.0 534.7,1275.0 535.2,1281.4 535.4,1340.5 535.6,1301.0 535.8,1347.0 536.1,1327.0 536.5,1305.0 536.8,1351.4 537.1,1307.3 537.4,1368.0 537.7,1312.5 538.1,1354.1 538.4,1311.5 538.8,1294.9 539.1,1307.2 539.5,1294.5 540.0,1292.3 540.4,1286.6 540.8,1289.2 541.3,1289.0 541.7,1291.9 542.1,1304.2 542.6,1314.4 543.0,1326.0 543.4,1334.5 543.9,1339.6 544.3,1347.0 544.8,1328.2 545.2,1339.8 545.7,1320.7 546.1,1319.6 546.6,1314.8 547.0,1314.2 547.4,1324.6 547.9,1318.6 548.3,1328.6 548.7,1320.1 549.2,1307.8 549.6,1299.7 550.0,1312.9 550.5,1304.9 550.9,1318.1 551.3,1332.6 551.8,1321.7 552.2,1333.9 552.8,1325.2 553.3,1332.9 553.9,1323.4 554.3,1335.1 554.7,1345.1 555.1,1357.9 555.5,1368.0 555.9,1356.0 556.4,1342.7 556.8,1331.2 557.2,1324.3 557.7,1315.1 558.1,1307.6 558.5,1313.7 559.0,1317.2 559.4,1323.4 559.8,1334.4 560.3,1324.7 560.7,1336.5 561.2,1310.5 561.6,1331.9 562.1,1305.0 562.5,1286.0 563.0,1298.2 563.4,1284.0 563.8,1286.1 564.3,1286.7 564.7,1289.2 565.1,1305.9 565.6,1293.0 566.0,1307.6 566.4,1318.1 566.9,1311.1 567.3,1318.1 567.7,1323.8 568.2,1322.5 568.6,1331.2 569.0,1337.2 569.5,1341.3 569.9,1347.0 570.3,1352.7 570.8,1357.1 571.2,1364.0 571.6,1386.3 571.9,1369.7 572.3,1387.7 572.8,1364.8 573.2,1341.7 573.6,1334.5 574.1,1341.3 574.5,1332.5 574.9,1355.4 575.4,1334.1 575.8,1357.5 576.0,1371.7 576.3,1357.6 576.5,1375.9 576.9,1356.4 577.4,1369.9 577.8,1350.9 578.2,1347.0 578.7,1340.2 579.1,1336.5 579.5,1323.6 580.0,1335.2 580.4,1323.4 580.8,1338.5 581.3,1327.0 581.7,1341.7 582.2,1346.2 582.6,1349.3 583.1,1353.5 583.5,1349.1 584.0,1342.3 584.4,1339.1 584.8,1329.2 585.3,1338.8 585.7,1328.6 586.1,1344.1 586.6,1334.7 587.0,1347.0 587.4,1337.8 587.9,1345.1 588.3,1337.8 588.7,1340.9 589.2,1339.6 589.6,1343.0 590.0,1353.7 590.5,1343.8 590.9,1357.5 591.3,1355.2 591.8,1348.6 592.2,1345.7 592.6,1346.3 593.0,1343.5 593.4,1343.5 593.8,1341.7 594.2,1341.7 594.6,1353.4 595.1,1345.7 595.5,1354.9 595.9,1357.3 596.4,1358.2 596.8,1361.7 597.2,1362.7 597.6,1364.5 598.0,1362.7 598.4,1366.9 598.8,1366.7 599.2,1366.2 599.6,1363.7 600.0,1364.1 600.4,1361.1 600.8,1361.4 601.2,1364.5 601.7,1363.3 602.1,1366.7 602.5,1372.3 603.0,1367.0 603.4,1374.5 603.7,1381.8 604.0,1375.1 604.3,1383.7 604.7,1359.2 605.2,1383.2 605.6,1357.5 606.0,1358.9 606.5,1355.8 606.9,1357.3 607.3,1356.2 607.7,1355.9 608.2,1349.2 608.6,1347.0 609.1,1345.9 609.5,1340.5 610.0,1339.1 610.6,1305.0 611.3,1288.6 611.6,1300.1 611.9,1291.8 612.2,1303.7 612.6,1290.3 613.1,1297.6 613.5,1285.8 613.9,1292.4 614.2,1287.7 614.6,1292.4 615.3,1305.6 615.7,1281.0 616.1,1304.9 616.5,1273.6 617.0,1273.1 617.4,1270.8 617.9,1277.7 618.4,1283.0 618.9,1297.5 619.3,1284.6 619.8,1298.1 620.1,1302.6 620.5,1303.3 620.9,1307.0 621.2,1309.4 621.7,1304.7 622.1,1298.0 622.6,1292.4 623.0,1286.8 623.5,1281.1 623.8,1269.6 624.2,1278.4 624.5,1268.9 624.8,1253.1 625.1,1263.4 625.4,1252.9 625.7,1263.7 626.1,1255.9 626.4,1267.0 626.7,1254.8 627.0,1262.5 627.3,1251.0 627.6,1245.7 628.0,1236.9 628.3,1248.5 628.6,1239.3 628.9,1250.0 629.3,1243.4 629.8,1235.0 630.2,1258.0 630.7,1242.2 631.1,1259.5 631.5,1250.8 632.0,1241.6 632.3,1228.8 632.7,1239.4 633.0,1223.7 633.3,1231.3 633.6,1224.2 633.9,1234.0 634.3,1230.2 634.8,1225.6 635.3,1234.5 635.8,1243.4 636.2,1238.6 636.7,1232.1 637.0,1246.9 637.4,1234.4 637.7,1251.0 638.0,1256.7 638.3,1253.2 638.6,1257.6 639.0,1245.4 639.5,1230.3 639.8,1216.6 640.2,1227.9 640.5,1215.2 641.0,1217.7 641.4,1219.9 641.7,1211.4 642.1,1217.5 642.4,1210.5 642.7,1205.4 643.0,1209.0 643.3,1203.4 643.6,1214.6 644.0,1207.3 644.3,1217.1 644.8,1222.0 645.2,1226.5 645.7,1224.8 646.1,1214.3 646.8,1237.8 647.2,1235.5 647.6,1228.6 648.0,1226.5 648.3,1216.9 648.7,1223.2 649.0,1213.3 649.5,1213.8 649.9,1211.4 650.2,1221.0 650.5,1211.8 650.8,1221.8 651.2,1224.3 651.5,1223.8 651.9,1226.9 652.3,1226.5 652.8,1231.2 653.2,1235.9 653.7,1227.7 654.1,1217.1 654.6,1212.0 655.1,1203.9 655.5,1202.1 656.0,1199.2 656.5,1204.5 657.0,1209.5 657.5,1209.3 657.9,1206.7 658.3,1199.8 658.8,1191.7 659.2,1188.9 659.7,1185.7 660.1,1182.7 660.2,1254.2 660.4,1202.3 660.5,1265.1 660.7,1234.9 661.0,1257.3 661.2,1231.2 661.6,1236.0 662.0,1235.8 662.4,1240.6 662.7,1231.1 663.1,1239.5 663.4,1230.3 663.8,1238.5 664.1,1246.4 664.5,1254.7 665.0,1249.5 665.4,1243.4 665.7,1250.0 666.1,1245.2 666.4,1251.9 666.8,1261.7 667.1,1253.3 667.5,1262.3 667.9,1251.0 668.3,1237.8 668.7,1231.8 669.0,1235.7 669.4,1230.3 669.8,1228.3 670.2,1223.4 670.6,1220.8 671.1,1226.0 671.5,1227.9 672.0,1234.0 672.4,1229.4 672.8,1222.3 673.2,1218.0 673.6,1224.4 674.0,1220.4 674.4,1225.6 674.7,1233.1 675.0,1227.5 675.3,1235.9 675.6,1258.8 676.0,1238.4 676.3,1264.2 676.7,1275.5 677.1,1283.7 677.5,1295.2 677.8,1271.7 678.1,1284.9 678.4,1264.2 678.9,1259.9 679.3,1253.2 679.8,1250.0 680.1,1268.0 680.5,1284.9 681.0,1280.4 681.4,1272.6 681.9,1278.8 682.4,1284.9 682.7,1258.3 683.0,1281.6 683.3,1256.6 683.8,1269.3 684.2,1257.5 684.7,1271.7 685.0,1284.6 685.4,1274.2 685.7,1285.8 686.2,1267.4 686.6,1278.5 687.1,1264.2 687.5,1259.7 688.0,1254.7 688.5,1221.8 689.0,1223.4 689.4,1224.1 689.9,1226.5 690.4,1229.3 690.8,1229.3 691.3,1232.1 691.8,1225.0 692.3,1215.2 692.6,1201.9 692.9,1210.5 693.2,1198.2 693.8,1179.8 694.1,1171.0 694.5,1159.4 694.8,1173.9 695.1,1163.3 695.4,1175.5 695.7,1161.7 695.9,1169.6 696.2,1156.1 696.6,1161.2 697.1,1163.0 697.5,1169.0 697.9,1160.1 698.2,1168.9 698.6,1158.3 699.0,1155.7 699.4,1149.0 699.8,1146.4 700.2,1142.2 700.6,1162.7 700.9,1146.8 701.3,1170.1 701.7,1138.5 702.0,1162.6 702.4,1134.6 702.9,1141.2 703.4,1147.5 703.8,1107.2 704.1,1138.7 704.5,1099.1 704.9,1106.2 705.2,1109.0 705.6,1115.3 706.1,1120.9 706.5,1123.6 707.0,1128.2 707.2,1108.4 707.5,1122.3 707.7,1100.2 708.1,1102.0 708.4,1102.7 708.8,1104.5 709.1,1084.2 709.3,1098.3 709.6,1084.1 709.9,1068.7 710.1,1082.3 710.4,1062.6 710.7,1070.4 711.0,1064.1 711.3,1072.3 711.5,1101.6 711.8,1076.0 712.0,1102.4 712.4,1116.9 712.7,1105.9 713.1,1120.6 713.5,1110.5 713.8,1118.5 714.2,1108.8 714.9,1124.9 715.4,1091.3 715.8,1120.9 716.3,1090.5 716.7,1101.8 717.0,1090.5 717.4,1104.5 717.8,1122.4 718.2,1136.8 718.5,1149.2 718.9,1140.3 719.2,1149.7 719.7,1133.0 720.1,1115.3 720.5,1109.7 720.8,1099.5 721.2,1098.1 721.6,1102.9 721.9,1105.4 722.3,1109.9 722.8,1118.0 723.3,1122.8 723.7,1117.0 724.0,1107.3 724.4,1101.3 724.8,1088.0 725.1,1096.0 725.5,1085.2 725.9,1091.2 726.4,1095.0 726.8,1100.2 727.3,1112.5 727.7,1101.2 728.2,1113.1 728.7,1117.7 729.1,1115.3 729.6,1119.6 729.9,1106.6 730.3,1115.3 730.6,1102.4 731.0,1070.0 731.3,1093.7 731.7,1068.0 732.1,1051.9 732.4,1066.7 732.8,1050.8 733.0,1063.7 733.3,1055.3 733.5,1064.7 733.8,1048.6 734.1,1061.1 734.4,1044.3 734.9,1083.0 735.3,1079.9 735.7,1075.5 736.1,1100.3 736.4,1077.9 736.8,1101.3 737.1,1087.5 737.5,1095.0 737.8,1083.0 738.2,1084.9 738.5,1084.2 738.9,1087.3 739.3,1072.7 739.6,1085.5 740.0,1069.0 740.5,1100.2 740.8,1112.5 741.1,1102.0 741.4,1113.1 741.8,1120.4 742.1,1124.4 742.5,1132.5 742.9,1125.5 743.2,1115.3 743.6,1131.2 743.9,1143.4 744.3,1158.3 744.7,1141.6 745.0,1156.2 745.4,1136.8 745.9,1127.0 746.5,1135.2 747.0,1122.8 747.4,1145.7 747.7,1126.3 748.1,1147.5 748.6,1153.3 749.1,1158.3 749.5,1153.6 750.0,1144.9 750.4,1138.9 751.0,1129.1 751.6,1137.6 752.2,1127.1 752.4,1172.5 752.7,1132.2 752.9,1175.5 753.4,1167.7 753.8,1173.3 754.3,1165.8 754.7,1174.5 755.0,1166.8 755.4,1176.6 755.6,1140.9 755.9,1164.3 756.1,1135.7 756.5,1137.6 756.9,1130.8 757.3,1131.9 757.7,1129.2 758.1,1152.2 758.4,1135.8 758.8,1155.1 759.2,1153.1 759.6,1149.0 760.0,1146.5 760.4,1143.2 760.9,1165.0 761.0,1181.0 761.2,1165.1 761.3,1184.7 761.4,1267.2 761.5,1188.2 761.6,1271.2 761.8,1215.6 762.0,1251.3 762.2,1210.9 762.6,1220.1 763.1,1220.7 763.5,1227.9 764.0,1220.8 764.4,1210.9 764.8,1196.8 765.1,1209.4 765.5,1191.2 765.9,1197.9 766.4,1194.0 766.8,1199.1 767.2,1214.3 767.7,1204.0 768.1,1217.4 768.5,1230.3 769.0,1218.4 769.4,1233.2 769.8,1217.6 770.1,1228.7 770.5,1212.2 770.8,1203.7 771.2,1211.2 771.5,1201.0 771.9,1232.9 772.3,1214.7 772.7,1241.0 773.1,1238.7 773.6,1233.7 774.0,1230.5 774.4,1224.8 774.9,1217.2 775.3,1212.2 775.7,1226.1 776.2,1215.3 776.6,1230.5 776.9,1240.7 777.2,1232.8 777.5,1243.6 778.1,1226.4 778.6,1237.9 779.2,1222.7 779.7,1240.1 780.1,1226.0 780.6,1243.6 781.0,1236.4 781.5,1225.4 781.9,1217.4 782.3,1215.9 782.8,1213.6 783.2,1212.2 783.4,1220.4 783.6,1212.5 783.8,1221.4 784.1,1209.6 784.5,1195.1 784.9,1194.5 785.4,1192.2 785.8,1192.5 786.2,1203.2 786.7,1194.4 787.1,1206.9 787.7,1194.0 788.2,1204.7 788.8,1191.2 789.2,1203.5 789.7,1214.8 790.0,1227.6 790.3,1216.7 790.6,1227.9 791.0,1236.0 791.3,1229.8 791.7,1238.4 792.1,1233.7 792.6,1226.5 793.0,1221.4 793.4,1226.0 793.9,1228.0 794.3,1233.2 794.7,1231.4 795.2,1227.9 795.6,1226.6 796.0,1236.8 796.5,1231.2 796.9,1241.0 797.3,1242.9 797.7,1241.4 798.1,1245.7 798.5,1243.9 798.9,1246.3 799.2,1262.5 799.5,1251.0 799.8,1267.2 800.2,1276.3 800.5,1267.7 800.9,1276.4 801.4,1281.9 801.9,1286.9 802.3,1283.6 802.8,1276.8 803.2,1272.5 803.6,1288.6 804.1,1279.2 804.5,1294.7 805.0,1290.5 805.4,1282.6 805.9,1277.7 806.5,1259.7 807.1,1273.6 807.7,1255.4 808.1,1274.6 808.6,1261.0 809.0,1276.4 809.6,1264.5 810.1,1273.6 810.7,1262.0 811.4,1267.6 812.0,1262.1 812.7,1269.8 813.1,1272.1 813.5,1272.8 813.8,1276.3 814.2,1277.8 814.6,1280.3 815.2,1264.6 815.7,1278.9 816.3,1263.3 816.9,1302.6 817.4,1317.1 817.9,1328.8 818.3,1340.6 818.8,1330.3 819.2,1341.9 819.6,1350.3 819.9,1344.9 820.3,1351.1 820.6,1324.2 820.9,1347.2 821.2,1322.3 821.6,1316.3 822.1,1320.8 822.5,1315.7 822.8,1305.7 823.1,1312.6 823.4,1302.6 823.7,1323.0 823.9,1306.0 824.2,1330.1 824.6,1326.2 825.0,1321.2 825.4,1320.1 825.8,1314.4 826.2,1307.5 826.7,1314.0 827.1,1305.2 827.5,1311.2 828.0,1313.9 828.4,1319.7 828.8,1314.8 829.2,1309.0 829.6,1308.7 830.0,1300.0 830.3,1306.2 830.7,1302.3 831.0,1307.9 831.4,1314.7 831.9,1317.7 832.3,1323.6 832.7,1289.1 833.0,1312.6 833.4,1286.9 833.7,1277.0 834.0,1283.2 834.3,1276.4 834.7,1277.3 835.1,1275.4 835.6,1277.3 836.0,1276.4 836.4,1269.0 836.8,1261.0 837.2,1254.3 837.6,1246.3 838.0,1252.2 838.5,1253.6 838.9,1259.4 839.4,1247.9 840.0,1255.8 840.5,1243.6 840.9,1251.7 841.4,1256.8 841.8,1265.9 842.2,1270.3 842.7,1270.6 843.1,1275.1 843.5,1275.7 844.0,1274.8 844.4,1276.5 844.8,1276.4 845.2,1270.5 845.6,1264.2 846.1,1259.9 846.5,1252.8 847.0,1258.6 847.6,1253.4 848.1,1260.7 848.4,1287.0 848.8,1262.4 849.1,1288.2 849.6,1293.8 850.2,1289.2 850.7,1296.1 851.2,1304.8 851.7,1297.7 852.2,1306.5 852.7,1319.3 853.1,1309.6 853.6,1322.3 854.0,1316.4 854.5,1309.3 854.9,1303.9 855.2,1333.2 855.6,1307.1 855.9,1340.6 856.3,1330.6 856.6,1317.5 857.0,1306.5 857.4,1304.6 857.8,1297.8 858.1,1295.8 858.5,1292.1 858.9,1297.1 859.4,1299.7 859.8,1303.9 860.0,1314.3 860.3,1304.7 860.5,1317.0 861.0,1288.1 861.4,1258.1" stroke="#0000ff" stroke-width="1.1" fill="none" stroke-linejoin="round"/>
<path d="M373.5 1421.5v-5.5M373.5 1036.5v5.5M453.5 1421.5v-5.5M453.5 1036.5v5.5M533.5 1421.5v-5.5M533.5 1036.5v5.5M613.5 1421.5v-5.5M613.5 1036.5v5.5M693.5 1421.5v-5.5M693.5 1036.5v5.5M773.5 1421.5v-5.5M773.5 1036.5v5.5M853.5 1421.5v-5.5M853.5 1036.5v5.5M373.5 1421.5h5.5M909 1421.5h-5.5M373.5 1378.5h5.5M909 1378.5h-5.5M373.5 1335.5h5.5M909 1335.5h-5.5M373.5 1293.5h5.5M909 1293.5h-5.5M373.5 1250.5h5.5M909 1250.5h-5.5M373.5 1207.5h5.5M909 1207.5h-5.5M373.5 1164.5h5.5M909 1164.5h-5.5M373.5 1122.5h5.5M909 1122.5h-5.5M373.5 1079.5h5.5M909 1079.5h-5.5M373.5 1036.5h5.5M909 1036.5h-5.5" stroke="#262626" stroke-width="1" fill="none"/>
<rect x="373.5" y="1036.5" width="535.5" height="385" stroke="#262626" stroke-width="1" fill="none"/>
<g font-size="14.6"><text x="373.5" y="1440.9" text-anchor="middle">0</text><text x="453.4254" y="1440.9" text-anchor="middle">1</text><text x="533.3507" y="1440.9" text-anchor="middle">2</text><text x="613.2761" y="1440.9" text-anchor="middle">3</text><text x="693.2015" y="1440.9" text-anchor="middle">4</text><text x="773.1269" y="1440.9" text-anchor="middle">5</text><text x="853.0522" y="1440.9" text-anchor="middle">6</text><text x="366.9" y="1426.756" text-anchor="end">2.5</text><text x="366.9" y="1383.9782" text-anchor="end">3</text><text x="366.9" y="1341.2004" text-anchor="end">3.5</text><text x="366.9" y="1298.4227" text-anchor="end">4</text><text x="366.9" y="1255.6449" text-anchor="end">4.5</text><text x="366.9" y="1212.8671" text-anchor="end">5</text><text x="366.9" y="1170.0893" text-anchor="end">5.5</text><text x="366.9" y="1127.3116" text-anchor="end">6</text><text x="366.9" y="1084.5338" text-anchor="end">6.5</text><text x="366.9" y="1041.756" text-anchor="end">7</text></g>
<text x="641.75" y="1029" font-size="15.46" text-anchor="middle">BTC Prices in Minute Scale (2021-March 2022)</text>
<text x="640.75" y="1461.9" font-size="15.53" text-anchor="middle">Normalized Minute Scale</text>
<text transform="translate(338.5 1229) rotate(-90)" font-size="15.53" text-anchor="middle">Price ($)</text>
<text x="619.7" y="1483" class="sub" text-anchor="middle">(e)</text>
</svg></body></html>
